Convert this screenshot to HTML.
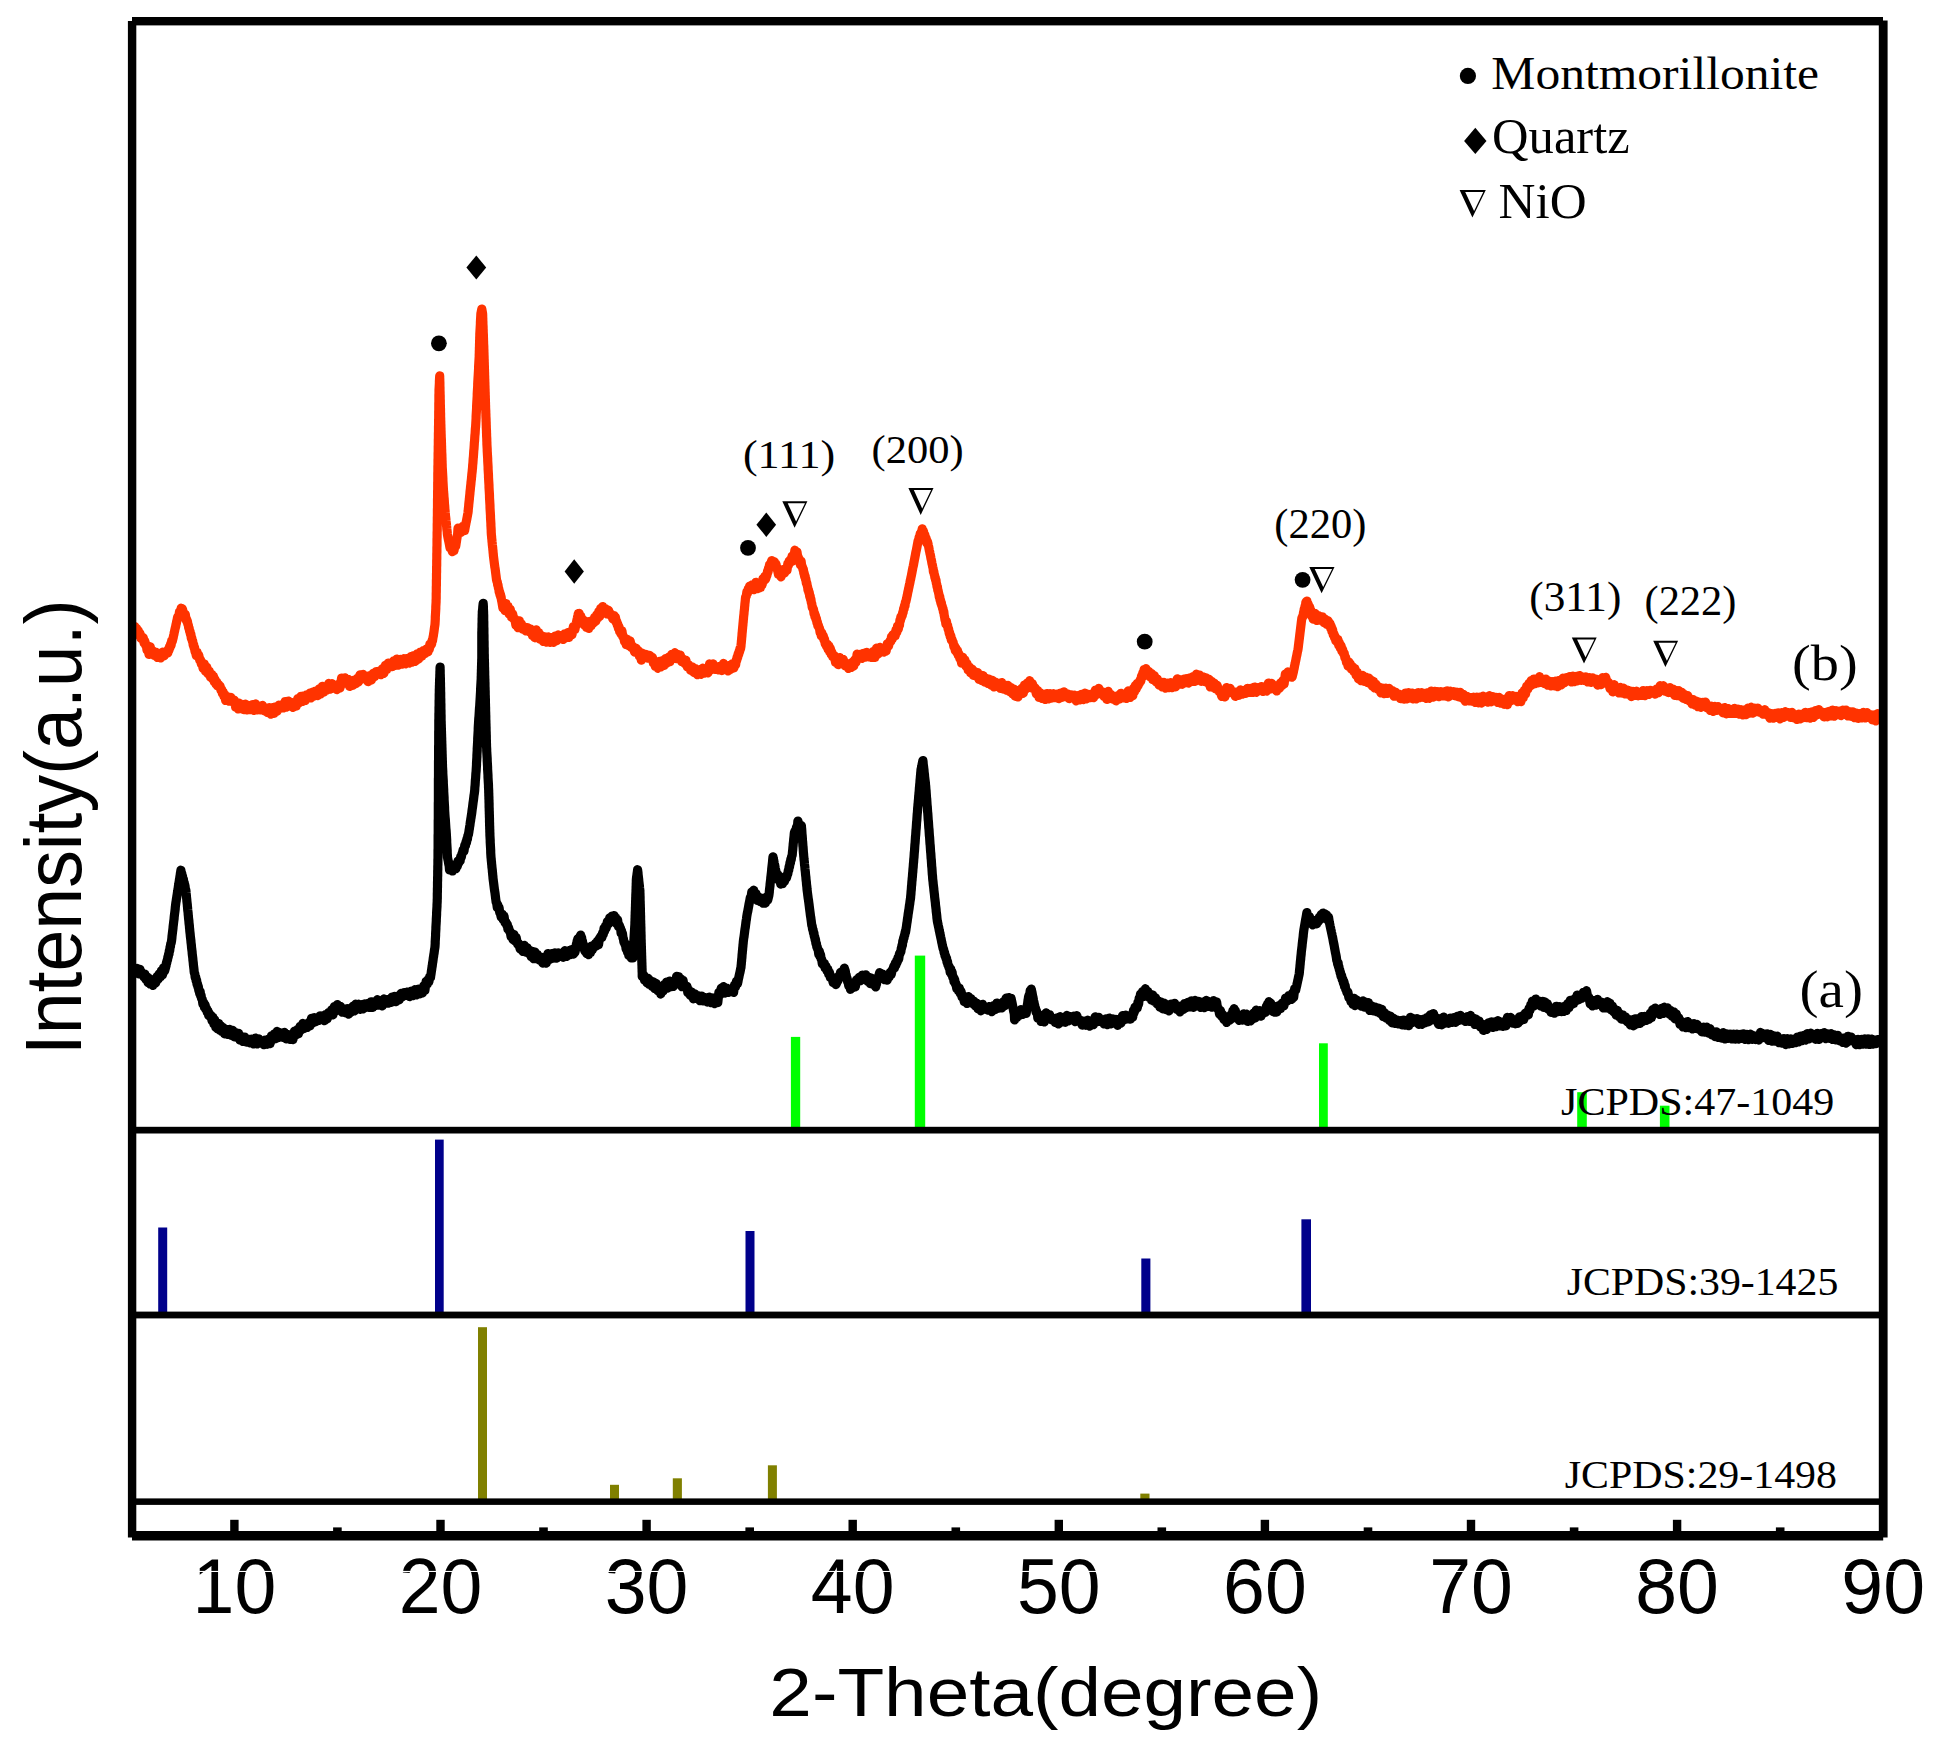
<!DOCTYPE html>
<html><head><meta charset="utf-8"><title>XRD patterns</title>
<style>
html,body{margin:0;padding:0;background:#fff}
svg{display:block}
.s{font-family:"Liberation Serif","DejaVu Serif",serif;fill:#000}
.a{font-family:"Liberation Sans","DejaVu Sans",sans-serif;fill:#000}
</style></head>
<body>
<svg width="1937" height="1749" viewBox="0 0 1937 1749">
<rect width="1937" height="1749" fill="#fff"/>
<rect x="790.9" y="1036.9" width="9.3" height="91.1" fill="#00ff00"/>
<rect x="914.8" y="955.6" width="10.4" height="172.4" fill="#00ff00"/>
<rect x="1319.0" y="1043.3" width="8.8" height="84.7" fill="#00ff00"/>
<rect x="1577.2" y="1092.2" width="9.6" height="35.8" fill="#00ff00"/>
<rect x="1659.9" y="1105.7" width="9.6" height="22.3" fill="#00ff00"/>
<rect x="158.2" y="1227.5" width="9.0" height="85.5" fill="#00008b"/>
<rect x="435.0" y="1139.6" width="8.7" height="173.4" fill="#00008b"/>
<rect x="745.5" y="1231.0" width="9.0" height="82.0" fill="#00008b"/>
<rect x="1141.3" y="1258.5" width="9.1" height="54.5" fill="#00008b"/>
<rect x="1301.4" y="1219.3" width="9.6" height="93.7" fill="#00008b"/>
<rect x="478.0" y="1327.2" width="9.0" height="172.8" fill="#808000"/>
<rect x="610.0" y="1484.8" width="9.0" height="15.2" fill="#808000"/>
<rect x="672.8" y="1478.3" width="9.1" height="21.7" fill="#808000"/>
<rect x="767.9" y="1465.3" width="9.0" height="34.7" fill="#808000"/>
<rect x="1140.3" y="1493.6" width="9.2" height="6.4" fill="#808000"/>
<polyline points="133.0,628.1 135.0,627.0 135.8,629.9 136.7,629.0 137.5,633.8 138.4,631.3 139.2,635.9 140.1,634.1 140.9,638.7 141.8,636.9 142.6,639.6 143.3,638.1 144.1,643.4 144.8,641.4 145.5,645.5 146.2,644.8 147.0,650.5 147.7,648.0 149.0,654.9 150.2,647.1 151.5,653.5 152.7,651.0 154.0,655.7 155.7,652.5 157.3,657.8 159.0,653.8 160.8,658.3 162.5,652.6 164.3,656.0 166.0,652.0 167.8,653.4 168.4,649.6 168.9,650.9 169.5,647.0 170.0,648.0 170.6,644.5 171.1,645.7 171.7,641.0 172.2,642.1 172.8,639.6 173.2,638.0 173.5,636.4 173.9,634.8 174.2,633.1 174.6,631.5 174.9,629.9 175.3,628.3 175.7,626.7 176.0,625.1 176.4,623.5 176.7,621.8 177.1,620.2 177.4,618.6 177.8,617.0 178.7,617.8 179.5,612.1 180.4,614.3 181.2,608.6 182.1,609.0 182.7,610.2 183.4,615.0 184.0,613.7 184.7,618.0 185.3,614.8 186.0,620.3 186.6,619.5 187.0,622.2 187.4,621.6 187.9,624.9 188.3,625.1 188.7,628.4 189.1,628.3 189.6,631.7 190.0,631.6 190.4,634.6 190.9,634.7 191.3,638.7 191.8,638.2 192.3,641.6 192.7,641.3 193.2,645.7 193.6,644.5 194.1,648.4 194.6,647.9 195.0,651.9 195.5,652.2 196.3,656.0 197.2,652.7 198.0,657.1 198.8,655.7 199.7,660.5 200.5,660.2 201.3,664.4 202.2,663.0 203.0,668.6 204.3,664.2 205.5,671.6 206.8,667.6 208.0,674.0 209.3,671.5 210.5,677.5 211.8,674.8 212.6,679.3 213.5,676.5 214.3,682.2 215.1,679.9 216.0,684.5 216.8,682.4 217.6,686.4 218.5,684.9 219.3,687.4 220.1,686.4 220.9,690.6 221.7,690.0 222.4,693.9 223.2,692.5 224.0,696.7 224.8,694.9 225.6,700.9 227.4,697.0 229.1,701.6 230.9,697.8 232.6,702.2 234.4,700.6 235.7,707.7 236.9,704.1 238.2,709.4 239.5,703.6 240.7,709.0 242.0,705.2 243.7,710.0 245.4,704.5 247.2,710.2 248.9,705.9 250.6,710.1 252.4,705.0 254.1,710.8 255.8,704.3 257.5,710.3 259.2,706.4 260.8,710.4 262.5,705.7 264.2,711.2 265.9,708.9 267.5,713.0 269.2,708.1 270.9,714.6 272.5,708.0 274.0,713.7 275.6,707.2 277.2,711.6 278.8,705.5 280.4,708.8 281.9,705.2 283.5,708.3 285.1,701.9 286.7,707.5 288.3,701.4 289.9,706.6 291.5,702.8 293.0,707.8 294.6,703.2 296.2,706.6 297.8,698.9 299.4,703.0 301.0,696.7 302.4,701.9 303.9,696.2 305.3,700.9 306.7,695.2 308.1,698.5 309.6,693.6 311.0,698.4 312.6,692.6 314.2,696.4 315.9,691.4 317.5,696.1 319.1,689.3 320.7,694.4 322.3,686.7 323.9,692.4 325.6,687.3 327.2,690.4 328.8,683.8 330.4,689.5 332.0,684.1 333.6,688.4 335.2,685.7 336.8,690.0 338.4,684.7 340.0,688.5 341.6,678.5 343.2,684.0 344.8,678.2 346.4,683.4 348.1,679.7 349.7,686.8 351.4,682.7 352.8,685.8 354.3,680.4 355.7,684.2 357.1,678.8 358.5,682.3 360.0,675.2 361.4,679.8 363.1,674.8 364.8,679.2 366.4,677.1 368.1,682.1 369.8,675.9 371.5,680.3 373.1,673.8 374.6,676.9 376.2,671.9 377.8,674.5 379.3,671.6 380.9,675.1 382.4,669.0 384.0,673.7 385.4,665.7 386.8,669.9 388.2,663.5 389.6,667.4 391.1,663.9 392.5,667.0 393.9,661.2 395.3,665.8 396.7,659.5 398.5,665.5 400.3,659.8 402.1,664.6 403.8,659.1 405.6,664.2 407.4,658.8 409.2,663.5 410.8,657.0 412.4,662.5 413.9,655.9 415.5,661.7 417.1,654.3 418.6,659.5 420.2,652.5 421.8,656.7 423.4,651.0 424.9,654.1 426.4,649.5 428.0,652.2 428.6,647.8 429.3,649.9 429.9,644.5 430.6,646.1 431.2,644.7 431.6,644.4 432.1,640.9 432.5,641.1 433.0,637.8 433.4,636.0 433.6,634.4 433.9,632.7 434.1,631.1 434.3,629.5 434.5,627.9 434.8,626.2 435.0,624.6 435.1,622.9 435.2,621.2 435.3,619.5 435.3,617.7 435.4,616.0 435.5,614.3 435.6,612.6 435.7,610.9 435.8,609.2 435.8,607.4 435.9,605.7 436.0,604.0 436.1,602.3 436.1,600.6 436.2,599.0 436.2,597.3 436.2,595.7 436.2,594.0 436.3,592.4 436.3,590.7 436.3,589.1 436.3,587.4 436.4,585.8 436.4,584.1 436.4,582.5 436.4,580.8 436.5,579.2 436.5,577.5 436.5,575.9 436.5,574.2 436.6,572.6 436.6,570.9 436.6,569.3 436.6,567.6 436.7,566.0 436.7,564.3 436.7,562.7 436.7,561.0 436.8,559.4 436.8,557.7 436.8,556.0 436.8,554.4 436.9,552.7 436.9,551.1 436.9,549.4 436.9,547.8 437.0,546.1 437.0,544.5 437.0,542.8 437.0,541.1 437.0,539.5 437.1,537.8 437.1,536.2 437.1,534.5 437.1,532.9 437.2,531.2 437.2,529.6 437.2,527.9 437.2,526.2 437.2,524.6 437.3,522.9 437.3,521.3 437.3,519.6 437.3,518.0 437.4,516.3 437.4,514.7 437.4,513.0 437.4,511.4 437.4,509.7 437.5,508.1 437.5,506.4 437.5,504.8 437.5,503.1 437.5,501.5 437.5,499.8 437.6,498.2 437.6,496.5 437.6,494.9 437.6,493.2 437.6,491.6 437.7,489.9 437.7,488.3 437.7,486.6 437.7,485.0 437.7,483.3 437.8,481.7 437.8,480.0 437.8,478.4 437.8,476.7 437.8,475.1 437.8,473.4 437.9,471.8 437.9,470.1 437.9,468.5 437.9,466.8 438.0,465.2 438.0,463.5 438.0,461.9 438.0,460.2 438.1,458.6 438.1,456.9 438.1,455.3 438.1,453.6 438.2,451.9 438.2,450.3 438.2,448.6 438.2,447.0 438.3,445.3 438.3,443.7 438.3,442.0 438.3,440.4 438.4,438.7 438.4,437.0 438.4,435.4 438.4,433.7 438.5,432.1 438.5,430.4 438.5,428.8 438.5,427.1 438.6,425.5 438.6,423.8 438.6,422.1 438.6,420.5 438.7,418.8 438.7,417.1 438.7,415.4 438.7,413.8 438.7,412.1 438.8,410.4 438.8,408.8 438.8,407.1 438.8,405.4 438.8,403.8 438.9,402.1 438.9,400.4 438.9,398.8 438.9,397.1 438.9,395.4 439.0,393.7 439.0,392.1 439.0,390.4 439.1,388.6 439.2,386.9 439.3,385.1 439.4,383.4 439.4,381.6 439.5,379.8 439.6,378.1 439.7,376.3 439.7,377.9 439.8,379.6 439.8,381.2 439.9,382.9 439.9,384.5 439.9,386.1 440.0,387.8 440.0,389.4 440.0,391.0 440.1,392.7 440.1,394.3 440.2,396.0 440.2,397.6 440.2,399.2 440.3,400.9 440.3,402.5 440.3,404.1 440.4,405.8 440.4,407.4 440.5,409.1 440.5,410.7 440.5,412.3 440.6,414.0 440.6,415.6 440.6,417.2 440.7,418.9 440.7,420.5 440.8,422.2 440.8,423.8 440.9,425.5 440.9,427.1 441.0,428.8 441.0,430.4 441.1,432.1 441.1,433.7 441.2,435.4 441.2,437.0 441.3,438.7 441.4,440.4 441.4,442.0 441.5,443.7 441.5,445.3 441.6,447.0 441.6,448.6 441.7,450.3 441.7,451.9 441.8,453.6 441.9,455.3 441.9,456.9 442.0,458.6 442.0,460.2 442.1,461.9 442.1,463.5 442.2,465.2 442.2,466.8 442.3,468.5 442.4,470.2 442.5,471.9 442.6,473.6 442.7,475.4 442.8,477.1 442.9,478.8 442.9,480.5 443.0,482.2 443.1,483.9 443.2,485.7 443.3,487.4 443.4,489.1 443.5,490.8 443.6,492.5 443.8,494.2 443.9,495.9 444.0,497.6 444.2,499.3 444.3,501.0 444.4,502.8 444.5,504.5 444.7,506.2 444.8,507.9 444.9,509.6 445.1,511.3 445.2,513.0 445.4,514.6 445.5,516.2 445.7,517.8 445.9,519.4 446.0,521.0 446.2,522.6 446.4,524.2 446.5,525.8 446.7,527.4 446.8,529.0 447.0,530.6 447.2,532.2 447.3,533.8 447.5,535.4 447.8,537.0 448.1,538.5 448.4,540.1 448.8,541.7 449.1,543.3 449.4,544.9 449.7,546.4 450.0,548.0 451.2,547.9 452.4,552.1 453.2,548.5 454.0,551.0 454.9,545.8 455.7,546.5 456.0,544.9 456.2,543.3 456.5,541.7 456.7,540.1 457.0,538.4 457.2,536.8 457.5,535.2 457.7,533.6 458.0,528.6 461.0,532.7 462.8,526.8 464.6,531.0 464.9,529.4 465.2,527.7 465.5,526.1 465.8,524.5 466.1,522.8 466.5,521.2 466.8,519.5 467.1,517.9 467.4,516.3 467.7,514.6 468.0,513.0 468.2,511.3 468.3,509.6 468.5,507.9 468.7,506.2 468.8,504.5 469.0,502.8 469.2,501.0 469.4,499.3 469.5,497.6 469.7,495.9 469.9,494.2 470.0,492.5 470.2,490.8 470.4,489.2 470.5,487.6 470.7,486.0 470.9,484.4 471.0,482.8 471.2,481.2 471.4,479.6 471.5,478.1 471.7,476.5 471.8,474.9 472.0,473.3 472.2,471.7 472.3,470.1 472.5,468.5 472.6,466.9 472.7,465.3 472.9,463.7 473.0,462.1 473.1,460.5 473.2,458.9 473.4,457.3 473.5,455.7 473.6,454.1 473.7,452.5 473.8,450.9 474.0,449.3 474.1,447.7 474.2,446.1 474.3,444.4 474.4,442.7 474.6,441.0 474.7,439.2 474.8,437.5 474.9,435.8 475.1,434.1 475.2,432.4 475.3,430.7 475.4,428.9 475.6,427.2 475.7,425.5 475.8,423.8 475.9,422.1 476.0,420.4 476.1,418.7 476.1,416.9 476.2,415.2 476.3,413.5 476.4,411.8 476.5,410.1 476.6,408.4 476.6,406.6 476.7,404.9 476.8,403.2 476.9,401.5 477.0,399.8 477.1,398.1 477.2,396.4 477.2,394.6 477.3,392.9 477.4,391.2 477.5,389.5 477.6,387.8 477.7,386.1 477.7,384.3 477.8,382.6 477.9,380.9 478.0,379.2 478.1,377.5 478.2,375.8 478.3,374.1 478.4,372.3 478.5,370.6 478.6,368.9 478.6,367.2 478.7,365.5 478.8,363.8 478.9,362.0 479.0,360.3 479.1,358.6 479.2,356.9 479.2,355.2 479.3,353.5 479.3,351.8 479.4,350.0 479.4,348.3 479.5,346.6 479.5,344.9 479.6,343.2 479.6,341.5 479.7,339.7 479.7,338.0 479.8,336.3 479.8,334.6 479.9,332.9 480.0,331.2 480.1,329.5 480.2,327.7 480.3,326.0 480.4,324.3 480.4,322.6 480.5,320.9 480.6,319.1 480.7,317.4 480.8,315.7 480.9,314.0 481.4,311.7 481.8,309.4 482.2,311.7 482.6,314.0 482.7,315.6 482.7,317.3 482.8,318.9 482.8,320.6 482.9,322.2 482.9,323.9 483.0,325.6 483.1,327.2 483.1,328.8 483.2,330.5 483.2,332.1 483.3,333.8 483.4,335.4 483.4,337.1 483.5,338.8 483.5,340.4 483.6,342.1 483.6,343.7 483.7,345.3 483.8,347.0 483.8,348.6 483.9,350.3 483.9,351.9 484.0,353.6 484.0,355.2 484.1,356.9 484.1,358.6 484.2,360.2 484.2,361.9 484.3,363.5 484.3,365.2 484.4,366.8 484.4,368.5 484.5,370.1 484.5,371.8 484.6,373.4 484.6,375.1 484.7,376.7 484.7,378.4 484.8,380.0 484.8,381.7 484.9,383.3 484.9,385.0 485.0,386.6 485.0,388.3 485.1,389.9 485.1,391.6 485.2,393.2 485.2,394.9 485.3,396.5 485.3,398.2 485.4,399.8 485.4,401.5 485.5,403.2 485.5,404.8 485.6,406.5 485.6,408.1 485.7,409.8 485.8,411.4 485.8,413.1 485.9,414.7 485.9,416.4 486.0,418.0 486.1,419.7 486.1,421.3 486.2,423.0 486.2,424.6 486.3,426.3 486.3,427.9 486.4,429.6 486.5,431.2 486.5,432.9 486.6,434.5 486.6,436.2 486.7,437.8 486.8,439.5 486.8,441.1 486.9,442.8 486.9,444.4 487.0,446.1 487.1,447.8 487.2,449.4 487.2,451.1 487.3,452.7 487.4,454.4 487.5,456.0 487.6,457.7 487.7,459.3 487.7,461.0 487.8,462.7 487.9,464.3 488.0,466.0 488.1,467.6 488.1,469.3 488.2,470.9 488.3,472.6 488.4,474.2 488.5,475.9 488.5,477.6 488.6,479.2 488.7,480.9 488.8,482.5 488.9,484.2 489.0,485.8 489.0,487.5 489.1,489.1 489.2,490.8 489.3,492.5 489.4,494.2 489.5,495.9 489.5,497.6 489.6,499.3 489.7,501.0 489.8,502.8 489.9,504.5 490.0,506.2 490.0,507.9 490.1,509.6 490.2,511.3 490.3,513.0 490.4,514.6 490.5,516.2 490.5,517.8 490.6,519.4 490.7,521.0 490.8,522.6 490.9,524.2 490.9,525.8 491.0,527.4 491.1,529.0 491.2,530.6 491.2,532.2 491.3,533.8 491.4,535.4 491.6,537.0 491.7,538.6 491.9,540.2 492.0,541.8 492.2,543.4 492.3,545.0 492.5,546.5 492.7,548.1 492.8,549.7 493.0,551.3 493.1,552.9 493.3,554.5 493.4,556.1 493.6,557.7 493.8,559.3 494.0,560.9 494.2,562.5 494.4,564.1 494.6,565.7 494.8,567.3 495.1,568.9 495.3,570.4 495.5,572.0 495.7,573.6 495.9,575.2 496.1,576.8 496.3,578.4 496.5,580.0 496.9,581.7 497.3,582.4 497.7,585.5 498.0,585.3 498.4,588.4 498.8,589.2 499.2,592.5 499.6,591.8 500.0,595.5 500.4,594.3 500.7,597.6 501.1,597.1 501.5,600.6 501.9,602.3 502.9,608.3 504.0,604.1 505.0,611.0 506.0,603.9 507.1,610.7 508.1,606.7 509.2,614.5 510.3,609.9 511.4,617.4 512.6,614.2 513.7,619.3 514.8,619.4 515.9,625.7 517.0,621.8 518.1,628.1 519.3,621.2 520.4,628.2 521.5,624.4 522.6,629.5 524.2,627.3 525.9,631.3 527.5,628.1 529.2,632.1 530.9,629.6 532.5,635.9 533.8,632.1 535.0,638.2 536.2,630.3 537.5,636.7 538.8,633.1 540.0,639.7 541.7,636.0 543.3,641.9 545.0,637.2 546.6,642.5 548.3,637.3 549.9,642.7 551.6,637.9 553.3,642.8 554.9,636.5 556.6,641.1 558.2,635.3 559.9,639.0 561.5,635.8 563.2,639.9 564.7,634.2 566.1,638.1 567.6,633.1 569.0,637.8 570.5,632.2 572.0,635.1 573.4,626.9 574.9,630.0 575.2,628.4 575.6,626.8 575.9,625.2 576.3,623.6 576.6,622.0 576.9,620.4 577.3,618.8 577.6,617.2 578.0,615.6 578.3,614.0 579.2,613.8 580.0,618.8 580.9,616.6 581.8,622.0 583.0,620.0 584.1,625.3 585.3,621.5 586.5,627.9 587.6,623.3 588.8,628.9 590.0,621.7 591.1,626.4 592.3,621.2 593.5,623.4 594.6,617.8 595.8,621.7 596.8,615.0 597.8,618.6 598.8,611.9 599.7,616.6 600.7,608.9 601.7,612.3 602.7,606.9 604.2,612.4 605.6,609.1 607.0,614.4 608.5,610.6 610.0,615.4 611.4,614.9 612.8,619.2 614.3,616.1 614.9,620.2 615.5,617.9 616.1,622.6 616.7,621.6 617.2,625.4 617.8,624.5 618.4,628.7 619.0,626.9 619.6,631.8 620.2,632.3 621.1,634.5 621.9,631.1 622.8,636.9 623.7,637.1 624.5,642.0 625.4,640.6 626.2,645.0 627.1,639.8 628.6,645.9 630.1,641.2 631.6,648.1 633.1,646.9 634.6,652.5 636.1,648.6 637.6,651.0 638.5,651.3 639.4,656.7 640.4,653.9 641.3,660.6 642.2,653.5 644.1,658.2 645.9,654.7 647.8,658.6 649.6,655.7 651.5,657.9 652.4,657.7 653.4,663.5 654.3,661.7 655.3,666.7 656.2,663.3 657.8,668.7 659.3,661.8 660.9,667.4 662.4,661.0 664.0,665.9 665.5,659.1 667.0,663.6 668.6,657.5 670.1,662.0 671.7,654.8 673.2,658.4 674.8,653.1 676.2,659.1 677.6,654.8 678.9,659.2 680.3,655.4 681.7,662.0 683.1,659.4 684.5,663.7 685.9,660.5 687.3,667.2 688.7,665.2 690.5,670.6 692.2,667.2 694.0,672.9 695.7,669.0 697.4,675.1 699.2,670.2 700.9,674.8 702.7,668.6 704.4,673.5 706.1,669.7 707.9,673.2 709.6,664.3 711.3,670.2 713.1,664.2 714.8,669.7 716.5,666.9 718.3,670.3 720.0,666.7 721.8,671.0 723.5,663.8 725.1,669.4 726.6,666.7 728.2,671.4 729.6,665.7 731.0,669.6 732.4,664.2 733.8,668.4 735.2,664.9 735.7,664.8 736.2,660.5 736.7,661.0 737.1,657.4 737.6,658.4 738.1,654.4 738.6,655.2 739.1,651.7 739.5,652.5 740.0,648.7 740.5,649.4 741.0,646.3 741.1,644.7 741.3,643.1 741.4,641.5 741.6,639.9 741.7,638.3 741.9,636.7 742.0,635.1 742.1,633.5 742.3,631.9 742.4,630.3 742.6,628.7 742.7,627.1 742.9,625.5 743.0,623.9 743.2,622.3 743.3,620.7 743.5,619.0 743.6,617.4 743.8,615.7 744.0,614.1 744.1,612.4 744.3,610.8 744.5,609.1 744.6,607.4 744.8,605.8 744.9,604.1 745.1,602.5 745.3,600.8 745.4,599.2 745.6,597.5 746.3,596.5 746.9,592.0 747.6,593.4 748.3,589.1 749.0,590.4 749.6,586.5 750.3,589.7 752.2,585.3 754.0,590.1 755.9,582.7 757.7,589.0 759.6,588.2 760.5,587.9 761.3,582.2 762.2,585.1 763.0,579.1 763.9,581.2 764.8,576.8 765.6,579.5 766.5,576.6 767.0,575.7 767.5,571.6 768.0,572.7 768.5,568.7 769.0,568.7 769.5,565.2 770.0,566.4 771.8,560.9 773.5,562.6 774.3,562.1 775.2,567.6 776.0,564.3 776.8,569.3 777.6,570.4 778.5,574.9 779.3,571.8 781.0,577.3 782.8,570.1 784.5,573.4 786.3,569.6 787.0,570.8 787.8,564.1 788.5,565.6 789.2,561.4 789.9,562.7 790.6,559.8 791.4,562.1 792.1,556.6 793.5,560.1 794.9,550.6 796.3,553.3 797.0,552.4 797.7,557.3 798.4,557.6 799.1,562.4 799.7,560.3 800.4,565.3 801.1,561.6 801.8,567.0 802.5,567.3 802.9,569.7 803.4,569.8 803.8,573.8 804.2,573.3 804.6,577.0 805.1,576.1 805.5,579.5 805.9,579.6 806.3,583.4 806.8,583.5 807.2,585.9 807.6,587.2 808.0,590.5 808.4,589.8 808.9,593.3 809.3,593.0 809.7,597.0 810.1,595.9 810.5,599.8 810.9,599.4 811.3,602.9 811.8,604.3 812.2,607.6 812.6,607.6 813.0,609.1 813.5,609.7 814.0,614.0 814.5,613.5 814.9,617.1 815.4,615.6 815.9,619.7 816.4,618.7 816.9,623.1 817.3,622.0 817.8,626.2 818.3,625.3 818.8,627.7 819.4,628.3 820.1,633.0 820.7,631.6 821.3,636.3 822.0,633.7 822.6,637.5 823.3,636.2 823.9,640.1 824.5,639.4 825.2,644.1 825.8,644.0 826.6,646.8 827.4,644.5 828.1,649.7 828.9,646.3 829.7,652.2 830.5,649.2 831.2,654.7 832.0,652.9 832.8,657.2 834.2,656.0 835.6,662.9 836.9,659.0 838.3,665.1 839.7,658.0 841.5,664.0 843.2,659.7 845.0,666.1 846.7,663.8 848.5,668.9 850.2,664.8 851.4,667.8 852.5,662.6 853.7,666.5 854.8,660.1 856.0,662.9 857.1,654.5 858.7,658.4 860.3,654.7 861.9,658.8 863.5,653.8 865.1,657.6 866.7,652.8 868.3,657.2 869.9,653.5 871.6,657.9 873.2,651.9 874.9,657.8 876.5,648.6 878.2,654.4 879.8,647.7 881.5,651.9 882.7,649.5 883.8,652.5 885.0,648.1 886.1,651.6 887.3,644.2 888.5,646.6 889.6,641.8 890.8,641.6 891.5,637.1 892.3,639.4 893.0,635.0 893.8,637.2 894.5,633.8 895.3,636.0 896.0,630.3 896.8,632.9 897.5,626.6 898.3,629.6 899.0,625.4 899.5,625.6 899.9,620.4 900.4,621.3 900.8,617.3 901.3,618.1 901.8,615.7 902.2,616.2 902.7,612.9 903.1,613.0 903.6,609.1 904.1,609.4 904.5,605.9 905.0,606.3 905.4,602.5 905.9,602.1 906.2,600.5 906.6,598.8 906.9,597.2 907.3,595.6 907.6,593.9 907.9,592.3 908.3,590.7 908.6,589.0 909.0,587.4 909.3,585.7 909.7,584.1 910.0,582.5 910.3,580.8 910.7,579.2 911.0,577.6 911.4,575.9 911.7,574.3 912.0,572.7 912.3,571.1 912.6,569.5 912.9,567.9 913.3,566.3 913.6,564.7 913.9,563.1 914.2,561.5 914.5,559.9 914.8,558.4 915.1,556.8 915.4,555.2 915.7,553.6 916.0,552.0 916.4,550.4 916.7,548.8 917.0,547.2 917.3,545.6 917.6,544.0 918.1,541.1 918.6,542.2 919.1,537.7 919.6,538.1 920.2,534.2 920.7,535.1 921.2,532.4 921.7,532.9 922.2,529.3 922.8,533.5 923.5,531.7 924.1,535.5 924.8,535.1 925.4,538.7 926.1,538.6 926.7,543.4 927.4,541.7 928.0,544.0 928.3,545.7 928.7,547.3 929.0,549.0 929.3,550.7 929.7,552.3 930.0,554.0 930.4,555.6 930.7,557.3 931.0,559.0 931.4,560.6 931.7,562.3 932.0,564.0 932.4,565.6 932.7,567.3 933.1,568.8 933.4,572.2 933.8,571.6 934.2,574.8 934.5,575.0 934.9,578.1 935.2,577.4 935.6,580.7 936.0,580.2 936.3,583.5 936.7,584.4 937.0,587.1 937.4,587.0 937.8,590.6 938.1,591.0 938.5,592.8 938.9,594.6 939.3,597.6 939.7,596.6 940.1,600.8 940.5,600.2 940.9,603.7 941.3,602.6 941.7,606.0 942.2,606.2 942.6,609.1 943.0,608.9 943.4,612.3 943.8,612.0 944.2,615.6 944.6,617.4 945.0,620.3 945.4,620.7 945.9,624.6 946.5,621.9 947.0,625.9 947.6,625.7 948.1,629.7 948.6,629.2 949.2,633.9 949.7,633.2 950.2,637.0 950.8,636.0 951.3,640.5 951.9,639.5 952.4,641.6 953.1,642.5 953.9,647.1 954.6,646.4 955.3,650.9 956.1,648.9 956.8,653.0 957.6,651.0 958.3,655.8 959.0,654.4 959.8,658.8 960.5,657.4 961.6,663.5 962.7,657.7 963.8,663.6 964.9,660.2 966.0,666.7 967.1,664.1 968.2,670.5 969.3,667.3 970.7,673.3 972.1,669.5 973.5,675.9 974.9,672.0 976.2,676.5 977.6,673.0 979.0,679.7 980.4,675.3 981.8,680.9 983.2,676.0 984.8,682.5 986.3,678.6 987.9,683.7 989.4,679.6 991.0,685.4 992.5,680.7 994.1,687.4 995.6,682.5 997.2,686.9 998.7,683.9 1000.3,688.7 1001.8,682.9 1003.4,689.6 1004.9,685.4 1006.5,690.5 1008.0,685.8 1009.6,692.0 1011.1,688.0 1012.5,694.2 1013.9,689.5 1015.3,696.7 1016.7,692.4 1018.1,697.4 1019.4,690.6 1020.7,694.5 1022.0,688.6 1023.3,693.8 1024.5,685.4 1025.8,689.8 1027.1,683.6 1028.4,686.9 1029.7,681.1 1031.0,688.2 1032.4,684.0 1033.7,689.2 1035.0,688.2 1036.3,694.2 1037.7,690.9 1039.0,697.9 1040.5,693.3 1042.1,698.9 1043.7,694.7 1045.2,699.9 1046.8,693.9 1048.3,699.4 1050.0,694.1 1051.8,698.5 1053.5,694.1 1055.2,698.1 1057.0,694.4 1058.7,699.1 1060.5,693.6 1062.2,697.7 1064.0,692.2 1065.7,697.1 1067.5,694.3 1069.2,699.1 1071.0,695.2 1072.7,698.4 1074.5,695.6 1076.2,701.3 1077.9,696.0 1079.7,700.3 1081.4,694.8 1083.2,700.1 1084.9,693.5 1086.6,699.3 1088.4,694.7 1090.1,698.0 1091.8,694.4 1093.6,698.0 1095.3,690.6 1097.1,694.6 1098.8,688.7 1100.6,694.1 1102.3,692.2 1104.1,696.9 1105.5,693.8 1106.9,699.8 1108.2,691.8 1109.6,698.3 1111.0,694.9 1112.7,699.5 1114.3,697.0 1116.0,701.3 1117.6,696.1 1119.3,699.6 1120.9,693.7 1122.6,698.4 1124.5,695.1 1126.3,698.9 1128.2,691.3 1130.0,697.9 1131.9,695.6 1132.8,696.2 1133.7,688.6 1134.5,692.0 1135.4,685.9 1136.3,689.5 1137.2,683.8 1138.0,686.3 1138.9,684.0 1139.5,683.3 1140.2,680.2 1140.8,681.6 1141.5,676.6 1142.1,678.1 1142.8,673.3 1143.4,674.1 1144.1,670.0 1144.7,671.5 1146.0,668.9 1147.4,674.7 1148.8,671.7 1150.1,677.3 1151.5,674.0 1152.8,680.1 1154.3,675.9 1155.9,682.1 1157.4,679.5 1159.0,685.4 1160.5,682.3 1162.1,687.3 1163.8,682.8 1165.5,688.6 1167.2,683.5 1168.9,688.0 1170.6,683.0 1172.2,688.1 1173.9,683.7 1175.6,687.3 1177.3,679.2 1179.0,684.6 1180.7,680.3 1182.3,684.7 1183.8,679.6 1185.4,683.2 1186.9,678.9 1188.5,683.5 1190.0,678.3 1191.6,682.0 1193.1,677.0 1194.7,681.8 1196.4,674.6 1198.0,679.9 1199.7,675.4 1201.3,681.7 1203.0,677.3 1204.6,682.0 1206.3,678.3 1207.6,683.2 1209.0,679.6 1210.3,687.4 1211.6,681.7 1212.9,687.7 1214.3,683.5 1215.6,689.3 1217.1,685.6 1218.7,691.3 1220.2,691.5 1221.8,696.9 1223.4,692.5 1224.9,697.2 1226.6,687.9 1228.4,693.3 1230.1,688.8 1231.8,692.8 1233.6,692.4 1235.3,696.8 1237.1,692.3 1238.8,695.8 1240.5,690.2 1242.3,694.6 1244.0,690.8 1245.8,693.8 1247.5,688.7 1249.3,692.9 1251.0,688.7 1252.8,692.9 1254.5,687.4 1256.3,692.7 1258.0,687.9 1259.8,691.1 1261.5,687.0 1263.2,691.9 1265.0,687.1 1266.7,691.5 1268.4,683.4 1270.0,689.5 1271.7,683.8 1273.3,687.6 1275.0,686.0 1276.6,691.4 1278.3,686.1 1279.5,688.8 1280.6,683.2 1281.8,686.1 1283.0,680.9 1284.1,684.6 1285.3,674.6 1286.7,678.3 1288.0,672.3 1289.3,675.3 1290.7,672.5 1292.1,677.6 1293.4,672.3 1293.7,670.6 1294.1,669.0 1294.4,667.3 1294.7,665.7 1295.1,664.0 1295.4,662.4 1295.8,660.7 1296.1,659.0 1296.4,657.4 1296.8,655.7 1297.1,654.1 1297.4,652.4 1297.8,650.8 1298.1,649.1 1298.3,647.5 1298.5,645.8 1298.7,644.2 1298.9,642.5 1299.1,640.9 1299.3,639.3 1299.5,637.6 1299.7,636.0 1299.9,634.3 1300.1,632.7 1300.3,631.0 1300.5,629.4 1300.7,627.8 1300.9,626.1 1301.1,624.5 1301.3,622.8 1301.5,621.2 1301.9,618.3 1302.3,618.4 1302.7,616.4 1303.1,616.5 1303.5,612.8 1303.8,613.0 1304.2,609.4 1304.6,609.9 1305.0,606.6 1305.4,607.1 1305.8,603.0 1306.2,602.2 1306.9,601.4 1307.6,607.2 1308.3,604.7 1309.0,609.0 1309.7,607.3 1310.4,612.7 1311.1,611.0 1311.8,616.8 1312.5,613.9 1313.2,619.5 1315.1,613.8 1316.9,620.9 1318.8,616.1 1320.6,620.8 1322.5,617.3 1323.9,622.9 1325.3,619.7 1326.6,624.6 1328.0,621.1 1329.4,623.5 1330.0,623.9 1330.7,628.6 1331.3,626.6 1331.9,631.9 1332.6,629.8 1333.2,635.2 1333.9,634.0 1334.5,638.1 1335.1,636.6 1335.8,641.1 1336.4,639.8 1337.2,642.5 1338.0,639.9 1338.7,645.7 1339.5,643.5 1340.3,648.5 1341.1,646.0 1341.8,651.4 1342.6,649.7 1343.4,653.8 1344.2,653.5 1344.9,658.2 1345.7,658.1 1346.5,662.8 1347.2,661.3 1348.0,666.3 1348.8,662.3 1349.5,666.3 1350.3,664.1 1351.5,669.6 1352.6,667.1 1353.8,671.9 1354.9,668.9 1356.1,675.7 1357.3,672.6 1358.4,679.1 1359.6,675.6 1361.1,681.1 1362.7,675.8 1364.2,681.8 1365.8,677.5 1367.4,682.8 1368.9,678.5 1370.1,684.1 1371.2,680.6 1372.4,686.6 1373.6,681.9 1374.7,688.4 1375.9,684.5 1377.6,689.5 1379.2,687.5 1380.9,693.4 1382.5,688.5 1384.2,694.0 1385.8,688.5 1387.5,693.8 1389.1,688.8 1390.8,693.3 1392.4,690.9 1394.0,696.6 1395.7,692.6 1397.3,696.7 1398.9,694.4 1400.5,699.1 1402.1,695.2 1403.8,699.5 1405.4,693.4 1407.0,699.2 1408.6,693.0 1410.2,698.6 1411.8,693.4 1413.4,699.3 1415.0,693.9 1416.6,699.3 1418.3,693.0 1419.9,698.0 1421.5,693.1 1423.1,697.7 1424.7,693.8 1426.3,698.7 1427.9,692.9 1429.5,698.7 1431.1,691.5 1432.7,697.6 1434.3,691.7 1435.9,696.5 1437.5,692.0 1439.1,697.1 1440.7,692.1 1442.3,696.3 1443.9,692.2 1445.5,696.5 1447.1,691.3 1448.7,697.3 1450.3,691.5 1451.9,695.6 1453.6,692.1 1455.2,696.3 1456.9,692.6 1458.6,697.3 1460.3,692.7 1462.0,698.4 1463.6,694.8 1465.3,701.6 1467.0,696.7 1468.7,701.3 1470.3,698.1 1472.0,701.6 1473.6,697.6 1475.2,702.8 1476.8,697.5 1478.4,703.2 1480.0,697.4 1481.6,703.5 1483.2,696.6 1484.8,701.8 1486.4,697.5 1488.0,702.5 1489.6,696.0 1491.2,702.2 1492.8,697.1 1494.4,701.4 1496.0,697.7 1497.6,702.7 1499.2,697.7 1500.8,703.6 1502.5,700.3 1504.2,704.7 1505.8,699.3 1507.5,705.0 1509.2,696.0 1510.8,701.2 1512.5,696.0 1514.2,699.5 1515.9,696.8 1517.6,702.0 1519.2,697.5 1520.9,702.0 1522.1,693.2 1523.2,698.3 1524.4,690.5 1525.5,694.7 1526.7,686.7 1527.8,689.9 1529.0,683.7 1530.1,686.7 1531.2,681.0 1532.4,685.0 1533.8,679.4 1535.3,684.1 1536.7,680.2 1538.2,683.2 1539.6,677.1 1541.2,682.7 1542.8,679.9 1544.4,684.0 1546.0,679.4 1547.7,685.6 1549.3,681.6 1550.9,686.4 1552.5,682.0 1554.2,686.3 1556.0,681.4 1557.7,687.0 1559.4,680.7 1561.2,685.3 1562.9,678.6 1564.6,683.0 1566.3,678.1 1568.1,681.2 1569.8,677.0 1571.4,682.4 1573.0,676.5 1574.6,682.0 1576.2,676.8 1577.8,681.2 1579.4,675.9 1581.0,680.7 1582.6,677.2 1584.2,680.9 1585.9,677.3 1587.5,682.3 1589.2,678.0 1590.9,682.7 1592.6,678.2 1594.2,682.2 1595.9,679.4 1597.6,685.5 1599.3,679.9 1601.0,685.1 1602.6,678.1 1604.3,683.1 1605.7,677.7 1607.2,684.0 1608.6,682.8 1610.0,689.0 1611.5,685.4 1612.9,692.4 1614.4,685.1 1615.8,691.4 1617.4,687.8 1618.9,693.4 1620.5,687.8 1622.1,693.5 1623.6,688.5 1625.2,694.4 1626.7,690.2 1628.3,694.8 1629.9,691.3 1631.4,697.0 1633.0,691.8 1634.7,695.9 1636.5,691.6 1638.2,696.2 1639.9,692.6 1641.7,695.9 1643.4,690.9 1645.1,696.0 1646.8,691.1 1648.6,694.9 1650.3,690.7 1651.9,693.6 1653.6,691.1 1655.2,694.5 1656.9,689.2 1658.5,693.1 1660.2,686.0 1661.8,690.2 1663.4,686.1 1665.1,691.6 1666.7,689.0 1668.4,693.0 1670.0,688.0 1671.7,693.1 1673.3,689.6 1674.7,695.7 1676.2,690.9 1677.6,696.1 1679.0,691.1 1680.5,696.6 1681.9,692.7 1683.4,698.8 1684.8,694.9 1686.2,699.8 1687.7,695.9 1689.1,701.1 1690.6,699.5 1692.0,704.4 1693.4,700.1 1694.9,705.4 1696.3,701.4 1697.8,707.1 1699.2,702.5 1700.8,707.7 1702.3,702.8 1703.9,706.8 1705.5,702.4 1707.0,708.2 1708.6,706.1 1710.1,710.9 1711.7,706.6 1713.3,711.8 1714.8,706.7 1716.4,710.9 1718.0,707.0 1719.7,710.7 1721.3,708.9 1723.0,713.3 1724.6,707.9 1726.3,714.2 1727.9,708.9 1729.5,713.9 1731.2,710.3 1732.8,713.9 1734.5,708.8 1736.1,713.9 1737.8,709.5 1739.4,714.6 1741.1,710.1 1742.8,715.3 1744.5,710.2 1746.1,715.1 1747.8,708.6 1749.5,713.6 1751.2,707.6 1752.9,713.5 1754.5,708.6 1756.2,712.1 1757.9,708.5 1759.6,712.6 1761.3,710.7 1763.0,714.6 1764.8,710.1 1766.5,715.0 1768.2,712.9 1769.9,718.6 1771.6,714.0 1773.4,718.6 1775.1,713.8 1776.8,717.7 1778.5,713.2 1780.2,719.3 1781.8,713.0 1783.5,717.8 1785.2,712.1 1786.9,716.3 1788.6,712.9 1790.3,717.7 1792.0,712.8 1793.6,718.0 1795.3,715.4 1797.0,719.9 1798.7,714.6 1800.3,719.4 1802.0,714.5 1803.7,718.0 1805.4,712.7 1807.0,718.0 1808.7,713.0 1810.4,718.5 1812.1,712.2 1813.8,717.7 1815.4,711.0 1817.1,715.1 1818.8,710.0 1820.5,714.8 1822.3,712.6 1824.0,717.3 1825.7,712.8 1827.4,717.2 1829.1,711.8 1830.9,716.4 1832.6,710.5 1834.3,716.6 1836.0,711.0 1837.7,714.9 1839.3,711.4 1841.0,716.1 1842.7,710.6 1844.4,714.7 1846.1,710.4 1847.8,716.3 1849.5,712.0 1851.1,716.7 1852.8,712.2 1854.5,718.1 1856.3,713.4 1858.1,718.7 1859.9,713.9 1861.7,718.3 1863.4,712.7 1865.2,718.4 1867.0,713.0 1868.8,717.9 1870.6,715.1 1872.4,720.3 1874.2,715.2 1875.9,721.4 1877.7,714.1 1879.5,718.0" fill="none" stroke="#ff3300" stroke-width="9.2" transform="translate(0,-0.4)" stroke-linejoin="round" stroke-linecap="round"/>
<polyline points="133.0,971.2 134.3,968.3 135.7,972.5 137.2,968.8 138.6,974.2 140.0,969.8 141.5,974.5 142.9,974.5 143.9,977.4 144.9,974.6 145.9,979.8 147.0,977.1 148.0,983.0 149.0,978.6 150.0,984.3 151.4,981.0 152.9,985.7 154.3,980.3 155.8,983.3 157.2,976.7 158.3,979.5 159.3,974.2 160.4,977.4 161.4,971.1 162.5,975.4 163.6,968.2 164.6,971.3 165.7,967.4 166.1,966.0 166.4,963.2 166.8,963.2 167.1,960.8 167.5,960.5 167.9,957.3 168.2,957.7 168.6,954.5 169.0,954.6 169.3,950.9 169.7,951.3 170.1,947.1 170.4,947.2 170.8,943.8 171.1,943.7 171.5,941.6 171.7,940.0 171.9,938.4 172.0,936.8 172.2,935.1 172.4,933.5 172.6,931.9 172.8,930.3 173.0,928.7 173.1,927.1 173.3,925.5 173.5,923.9 173.7,922.2 173.9,920.6 174.1,919.0 174.2,917.4 174.4,915.8 174.6,914.2 174.8,912.6 175.0,911.0 175.2,909.3 175.3,907.7 175.5,906.1 175.7,904.5 175.9,902.9 176.2,901.3 176.4,899.7 176.7,898.0 176.9,896.4 177.2,894.8 177.4,893.2 177.7,891.6 177.9,890.0 178.2,888.4 178.4,886.7 178.7,885.1 178.9,883.5 179.2,881.9 179.4,880.3 179.7,878.7 179.9,877.1 180.2,875.4 180.4,873.8 180.7,872.2 180.9,870.6 181.3,874.1 181.7,873.5 182.1,876.9 182.5,876.4 182.9,879.9 183.4,879.7 183.8,883.6 184.2,882.6 184.6,886.1 185.0,886.1 185.4,889.8 185.8,890.2 186.0,891.8 186.1,893.5 186.3,895.1 186.4,896.8 186.6,898.4 186.8,900.1 186.9,901.7 187.1,903.4 187.3,905.0 187.4,906.7 187.6,908.3 187.7,910.0 187.9,911.6 188.1,913.2 188.2,914.9 188.4,916.5 188.5,918.2 188.7,919.8 188.9,921.5 189.0,923.1 189.2,924.8 189.4,926.4 189.5,928.1 189.7,929.7 189.8,931.4 190.0,933.0 190.2,934.6 190.3,936.2 190.5,937.8 190.7,939.4 190.9,941.0 191.0,942.6 191.2,944.2 191.4,945.8 191.5,947.4 191.7,949.0 191.9,950.6 192.1,952.2 192.2,953.9 192.4,955.5 192.6,957.1 192.8,958.7 192.9,960.3 193.1,961.9 193.3,963.5 193.4,965.1 193.6,966.7 193.8,968.3 194.0,969.9 194.1,971.5 194.3,973.1 194.8,974.1 195.2,977.9 195.7,977.5 196.1,981.2 196.6,980.4 197.0,984.6 197.5,984.1 197.9,987.4 198.3,986.6 198.8,990.9 199.2,990.5 199.7,994.0 200.2,992.1 200.6,996.1 201.1,995.7 201.5,998.8 202.2,999.6 202.9,1004.4 203.7,1003.1 204.4,1007.6 205.1,1005.2 205.8,1009.7 206.5,1008.8 207.2,1012.6 207.9,1011.3 208.7,1015.9 209.4,1014.0 210.1,1016.0 211.0,1016.0 212.0,1021.1 212.9,1017.7 213.9,1024.4 214.8,1020.5 215.8,1027.7 216.8,1024.5 217.7,1029.3 218.7,1024.0 219.6,1030.6 220.6,1026.1 221.5,1031.7 223.1,1027.8 224.7,1034.2 226.3,1029.7 227.9,1034.9 229.6,1029.8 231.2,1035.7 232.8,1030.8 234.4,1037.2 235.8,1033.0 237.2,1037.9 238.7,1033.8 240.1,1040.6 241.5,1036.9 242.9,1041.9 244.7,1037.5 246.5,1042.6 248.3,1039.6 250.1,1043.4 251.8,1039.5 253.6,1044.4 255.4,1038.4 257.2,1044.4 258.8,1039.2 260.5,1042.4 262.1,1041.2 263.8,1045.1 265.4,1040.4 267.1,1044.7 268.7,1039.5 270.1,1044.1 271.5,1036.2 272.9,1040.0 274.4,1034.2 275.8,1039.1 277.2,1031.8 279.0,1037.7 280.8,1033.3 282.6,1037.7 284.4,1032.8 286.1,1039.2 287.9,1034.8 289.7,1039.8 291.5,1035.0 292.9,1040.0 294.4,1031.6 295.8,1035.6 297.2,1030.1 298.6,1034.0 300.1,1026.8 301.5,1030.2 302.9,1023.8 304.4,1028.7 305.8,1024.9 307.2,1027.9 308.7,1023.0 310.1,1026.1 311.5,1018.8 312.9,1023.5 314.4,1018.0 315.8,1022.1 317.2,1018.2 318.7,1020.8 320.1,1016.3 321.5,1019.7 322.9,1016.1 324.4,1021.1 325.8,1014.9 327.2,1019.3 328.7,1012.9 330.1,1015.5 331.6,1010.2 333.0,1015.2 334.4,1007.0 335.9,1011.4 337.3,1005.0 338.9,1010.4 340.6,1006.8 342.2,1012.6 343.8,1009.2 345.4,1013.3 347.1,1009.0 348.7,1014.5 350.1,1008.8 351.6,1012.1 353.0,1006.5 354.4,1011.4 355.8,1004.6 357.2,1008.3 358.7,1004.6 360.1,1009.7 361.7,1005.0 363.2,1009.3 364.8,1004.3 366.4,1007.8 367.9,1003.8 369.5,1007.8 371.0,1002.2 372.6,1007.8 374.2,1002.2 375.7,1005.9 377.3,1000.1 379.0,1005.5 380.6,1000.9 382.3,1006.3 384.0,999.3 385.6,1003.7 387.3,999.9 388.5,1003.5 389.7,999.5 390.9,1002.9 392.0,997.4 393.2,1000.1 394.4,996.7 396.0,1002.0 397.7,996.4 399.3,1000.1 401.0,993.8 402.6,997.0 404.3,992.9 405.9,995.9 407.7,992.4 409.5,997.0 411.3,991.4 413.0,996.1 414.8,990.1 416.6,995.2 418.4,989.6 420.2,994.2 421.4,989.6 422.6,993.2 423.8,986.2 424.9,990.9 426.1,981.9 427.3,984.5 428.1,979.9 428.9,982.3 429.7,977.2 430.5,978.0 430.7,976.4 431.0,974.7 431.2,973.1 431.4,971.5 431.7,969.8 431.9,968.2 432.2,966.6 432.4,964.9 432.6,963.3 432.9,961.7 433.1,960.1 433.3,958.4 433.6,956.8 433.8,955.2 434.1,953.5 434.3,951.9 434.5,950.3 434.8,948.6 435.0,947.0 435.1,945.4 435.2,943.8 435.2,942.2 435.3,940.6 435.4,939.0 435.5,937.4 435.6,935.8 435.6,934.1 435.7,932.5 435.8,930.9 435.9,929.3 435.9,927.7 436.0,926.1 436.1,924.5 436.2,922.9 436.3,921.3 436.3,919.7 436.4,918.1 436.5,916.5 436.6,914.9 436.6,913.2 436.7,911.6 436.8,910.0 436.9,908.4 437.0,906.8 437.0,905.2 437.1,903.6 437.2,902.0 437.2,900.4 437.3,898.8 437.3,897.2 437.3,895.6 437.3,894.0 437.4,892.4 437.4,890.8 437.4,889.1 437.5,887.5 437.5,885.9 437.5,884.3 437.5,882.7 437.6,881.1 437.6,879.5 437.6,877.9 437.7,876.3 437.7,874.7 437.7,873.1 437.7,871.5 437.8,869.9 437.8,868.2 437.8,866.6 437.9,865.0 437.9,863.4 437.9,861.8 437.9,860.2 438.0,858.6 438.0,857.0 438.0,855.4 438.0,853.7 438.0,852.1 438.0,850.5 438.1,848.9 438.1,847.2 438.1,845.6 438.1,844.0 438.1,842.3 438.1,840.7 438.1,839.1 438.1,837.4 438.1,835.8 438.2,834.2 438.2,832.6 438.2,830.9 438.2,829.3 438.2,827.7 438.2,826.0 438.2,824.4 438.2,822.8 438.2,821.1 438.3,819.5 438.3,817.9 438.3,816.3 438.3,814.6 438.3,813.0 438.3,811.4 438.3,809.8 438.3,808.2 438.3,806.6 438.3,805.0 438.3,803.4 438.4,801.8 438.4,800.1 438.4,798.5 438.4,796.9 438.4,795.3 438.4,793.7 438.4,792.1 438.4,790.5 438.4,788.9 438.4,787.3 438.4,785.7 438.4,784.1 438.4,782.5 438.4,780.9 438.4,779.2 438.5,777.6 438.5,776.0 438.5,774.4 438.5,772.8 438.5,771.2 438.5,769.6 438.5,768.0 438.5,766.4 438.5,764.7 438.5,763.1 438.5,761.5 438.6,759.9 438.6,758.2 438.6,756.6 438.6,755.0 438.6,753.3 438.6,751.7 438.6,750.1 438.6,748.4 438.6,746.8 438.7,745.2 438.7,743.6 438.7,741.9 438.7,740.3 438.7,738.7 438.7,737.0 438.7,735.4 438.7,733.8 438.7,732.1 438.8,730.5 438.8,728.9 438.8,727.3 438.8,725.6 438.8,724.0 438.8,722.4 438.8,720.8 438.9,719.1 438.9,717.5 438.9,715.9 438.9,714.3 439.0,712.7 439.0,711.0 439.0,709.4 439.0,707.8 439.1,706.2 439.1,704.6 439.1,703.0 439.1,701.3 439.2,699.7 439.2,698.1 439.2,696.5 439.2,694.9 439.3,693.2 439.3,691.6 439.3,690.0 439.4,688.4 439.4,686.8 439.5,685.2 439.5,683.5 439.6,681.9 439.6,680.3 439.7,678.7 439.8,677.1 439.8,675.5 439.9,673.9 439.9,672.2 440.0,670.6 440.0,669.0 440.1,667.4 440.1,669.0 440.2,670.6 440.2,672.2 440.2,673.9 440.3,675.5 440.3,677.1 440.4,678.7 440.4,680.3 440.4,681.9 440.5,683.5 440.5,685.2 440.5,686.8 440.6,688.4 440.6,690.0 440.6,691.6 440.7,693.2 440.7,694.8 440.7,696.4 440.7,698.0 440.8,699.7 440.8,701.3 440.8,702.9 440.9,704.5 440.9,706.1 440.9,707.7 440.9,709.3 441.0,710.9 441.0,712.5 441.0,714.1 441.1,715.8 441.1,717.4 441.1,719.0 441.1,720.6 441.2,722.2 441.2,723.8 441.3,725.5 441.3,727.1 441.4,728.8 441.4,730.4 441.5,732.1 441.5,733.7 441.6,735.4 441.6,737.0 441.7,738.7 441.7,740.4 441.8,742.0 441.8,743.7 441.9,745.3 441.9,747.0 442.0,748.6 442.0,750.3 442.1,751.9 442.1,753.6 442.2,755.3 442.2,756.9 442.3,758.6 442.3,760.2 442.4,761.9 442.4,763.5 442.5,765.2 442.5,766.8 442.6,768.5 442.7,770.1 442.8,771.8 442.8,773.4 442.9,775.1 443.0,776.7 443.1,778.4 443.2,780.0 443.3,781.7 443.3,783.3 443.4,785.0 443.5,786.6 443.6,788.3 443.7,789.9 443.7,791.6 443.8,793.2 443.9,794.9 444.0,796.5 444.1,798.2 444.1,799.8 444.2,801.5 444.3,803.1 444.4,804.8 444.5,806.4 444.6,808.1 444.6,809.7 444.7,811.4 444.8,813.0 444.9,814.6 445.0,816.2 445.1,817.8 445.3,819.4 445.4,821.0 445.5,822.6 445.6,824.2 445.7,825.8 445.8,827.4 445.9,829.0 446.1,830.6 446.2,832.2 446.3,833.8 446.4,835.4 446.5,837.1 446.6,838.8 446.7,840.5 446.7,842.3 446.8,844.0 446.9,845.7 447.0,847.4 447.1,849.1 447.2,850.8 447.2,852.6 447.3,854.3 447.4,856.0 447.5,857.7 447.8,859.4 448.2,861.1 448.5,862.9 448.8,864.6 449.2,866.3 449.5,870.4 450.9,864.8 452.4,871.4 454.2,865.7 456.0,869.0 456.7,864.4 457.4,866.5 458.1,861.4 458.8,863.3 459.5,861.0 460.1,861.4 460.7,857.1 461.3,857.7 461.9,854.4 462.5,853.0 463.2,850.1 464.0,851.6 464.8,845.6 465.5,846.0 466.0,842.2 466.5,843.1 466.9,839.4 467.4,839.6 467.9,835.6 468.4,835.4 468.6,833.8 468.9,832.2 469.1,830.6 469.4,829.0 469.6,827.4 469.9,825.8 470.1,824.2 470.3,822.6 470.6,821.0 470.8,819.4 471.1,817.8 471.3,816.2 471.6,814.6 471.8,813.0 472.0,811.3 472.2,809.6 472.5,807.9 472.7,806.2 472.9,804.5 473.1,802.8 473.4,801.0 473.6,799.3 473.8,797.6 474.0,795.9 474.3,794.2 474.5,792.5 474.7,790.8 474.8,789.1 474.9,787.4 475.1,785.7 475.2,783.9 475.3,782.2 475.4,780.5 475.6,778.8 475.7,777.1 475.8,775.4 475.9,773.6 476.1,771.9 476.2,770.2 476.3,768.5 476.4,766.9 476.5,765.3 476.5,763.7 476.6,762.1 476.7,760.5 476.8,758.9 476.9,757.3 476.9,755.7 477.0,754.1 477.1,752.5 477.2,750.9 477.2,749.3 477.3,747.7 477.4,746.1 477.5,744.4 477.6,742.7 477.7,741.0 477.7,739.2 477.8,737.5 477.9,735.8 478.0,734.1 478.1,732.4 478.2,730.7 478.2,728.9 478.3,727.2 478.4,725.5 478.5,723.8 478.6,722.1 478.7,720.4 478.8,718.7 479.0,716.9 479.1,715.2 479.2,713.5 479.3,711.8 479.4,710.1 479.5,708.4 479.7,706.6 479.8,704.9 479.9,703.2 480.0,701.5 480.1,699.8 480.2,698.1 480.3,696.4 480.4,694.6 480.5,692.9 480.6,691.2 480.6,689.5 480.7,687.8 480.8,686.1 480.9,684.3 481.0,682.6 481.1,680.9 481.2,679.2 481.2,677.5 481.3,675.8 481.3,674.1 481.4,672.3 481.4,670.6 481.5,668.9 481.5,667.2 481.6,665.5 481.6,663.8 481.7,662.0 481.7,660.3 481.8,658.6 481.8,656.9 481.8,655.2 481.8,653.5 481.8,651.8 481.8,650.0 481.8,648.3 481.8,646.6 481.8,644.9 481.8,643.2 481.8,641.5 481.8,639.7 481.8,638.0 481.8,636.3 481.8,634.6 481.8,632.9 481.9,631.2 481.9,629.5 482.0,627.7 482.0,626.0 482.0,624.3 482.1,622.6 482.1,620.9 482.1,619.2 482.2,617.4 482.2,615.7 482.3,614.0 482.3,612.3 482.5,610.6 482.7,608.9 482.8,607.2 483.0,605.5 483.2,603.8 483.3,605.5 483.4,607.2 483.4,608.9 483.5,610.6 483.6,612.3 483.6,614.0 483.7,615.6 483.7,617.3 483.7,618.9 483.7,620.6 483.8,622.2 483.8,623.9 483.8,625.5 483.8,627.2 483.9,628.8 483.9,630.5 483.9,632.1 483.9,633.8 484.0,635.4 484.0,637.1 484.0,638.7 484.0,640.4 484.1,642.0 484.1,643.7 484.1,645.3 484.1,647.0 484.2,648.6 484.2,650.3 484.2,651.9 484.2,653.6 484.3,655.2 484.3,656.9 484.3,658.6 484.4,660.2 484.4,661.9 484.5,663.5 484.5,665.2 484.5,666.8 484.6,668.5 484.6,670.1 484.7,671.8 484.7,673.4 484.7,675.1 484.8,676.7 484.8,678.4 484.9,680.0 484.9,681.7 485.0,683.3 485.0,685.0 485.0,686.6 485.1,688.3 485.1,689.9 485.2,691.6 485.2,693.2 485.2,694.9 485.3,696.5 485.3,698.2 485.4,699.8 485.4,701.5 485.4,703.2 485.5,704.8 485.5,706.5 485.6,708.1 485.6,709.8 485.6,711.4 485.7,713.1 485.7,714.7 485.8,716.4 485.8,718.0 485.8,719.7 485.9,721.3 485.9,723.0 486.0,724.6 486.0,726.3 486.1,727.9 486.1,729.6 486.1,731.2 486.2,732.9 486.2,734.5 486.3,736.2 486.3,737.8 486.3,739.5 486.4,741.1 486.4,742.8 486.5,744.4 486.5,746.1 486.6,747.8 486.7,749.4 486.7,751.1 486.8,752.7 486.9,754.4 487.0,756.0 487.1,757.7 487.2,759.3 487.2,761.0 487.3,762.7 487.4,764.3 487.5,766.0 487.6,767.6 487.6,769.3 487.7,770.9 487.8,772.6 487.9,774.2 488.0,775.9 488.0,777.6 488.1,779.2 488.2,780.9 488.3,782.5 488.4,784.2 488.5,785.8 488.5,787.5 488.6,789.1 488.7,790.8 488.7,792.5 488.8,794.1 488.8,795.8 488.9,797.4 488.9,799.1 489.0,800.7 489.0,802.4 489.1,804.0 489.1,805.7 489.1,807.3 489.2,809.0 489.2,810.6 489.3,812.3 489.3,813.9 489.4,815.6 489.4,817.2 489.5,818.9 489.5,820.5 489.5,822.2 489.6,823.8 489.6,825.5 489.7,827.1 489.7,828.8 489.8,830.4 489.8,832.1 489.9,833.7 489.9,835.4 490.0,837.1 490.1,838.8 490.2,840.5 490.2,842.3 490.3,844.0 490.4,845.7 490.5,847.4 490.6,849.1 490.7,850.8 490.7,852.6 490.8,854.3 490.9,856.0 491.0,857.7 491.2,859.3 491.3,860.9 491.5,862.5 491.6,864.1 491.8,865.7 491.9,867.3 492.1,868.9 492.3,870.4 492.4,872.0 492.6,873.6 492.7,875.2 492.9,876.8 493.0,878.4 493.2,880.0 493.4,881.6 493.6,883.2 493.8,884.8 494.0,886.4 494.2,888.0 494.4,889.6 494.6,891.1 494.9,892.7 495.1,894.3 495.3,895.9 495.5,897.5 495.7,899.1 495.9,900.7 496.1,902.3 496.7,903.5 497.3,908.1 497.9,905.4 498.5,909.0 499.1,908.2 499.7,912.9 500.3,913.4 501.2,917.5 502.2,914.5 503.1,920.0 504.0,916.4 505.0,923.0 505.9,922.4 506.6,925.2 507.3,924.7 507.9,929.5 508.6,928.1 509.3,931.3 510.2,931.9 511.1,937.1 512.0,934.1 513.0,940.0 513.9,934.9 514.8,941.3 516.1,937.7 517.5,944.3 518.8,944.2 520.2,949.5 521.5,947.0 522.9,951.9 524.3,945.7 525.8,952.5 527.2,948.0 528.6,953.8 530.0,950.8 531.2,957.0 532.5,951.9 533.7,959.1 534.9,952.4 536.2,959.1 537.4,954.8 539.2,960.4 541.0,957.5 542.7,963.5 544.5,957.6 546.3,963.5 548.0,954.0 549.8,959.7 551.6,954.1 553.3,958.5 554.9,953.2 556.6,958.6 558.2,953.2 559.9,956.8 561.5,953.5 563.2,957.7 564.9,951.0 566.5,956.9 568.2,951.2 569.9,955.1 571.6,949.9 573.2,954.6 574.9,952.6 575.3,951.1 575.7,947.9 576.0,947.5 576.4,944.4 576.8,944.4 577.2,940.8 577.5,940.7 577.9,939.1 578.3,940.9 580.7,935.4 581.1,938.7 581.6,937.7 582.0,941.3 582.4,941.2 582.8,944.9 583.2,944.0 583.7,948.1 584.1,949.1 585.0,951.7 585.9,949.0 586.7,954.0 587.6,951.7 588.6,955.0 589.6,949.0 590.6,953.0 591.6,946.4 592.6,949.8 593.6,945.7 594.6,946.8 595.6,943.7 596.5,946.4 597.5,941.4 598.5,945.3 599.4,939.1 600.4,937.5 601.1,936.4 601.9,937.9 602.6,933.4 603.3,934.9 604.0,928.8 604.8,931.1 605.5,926.4 606.2,928.6 607.4,922.0 608.5,924.4 609.7,918.2 610.9,922.2 612.0,916.5 613.2,917.2 614.1,915.9 615.0,921.3 615.8,918.2 616.7,924.2 617.6,920.3 618.5,927.1 619.3,925.7 620.2,928.2 620.7,929.4 621.1,933.6 621.6,931.4 622.0,934.5 622.5,934.1 623.0,938.4 623.4,939.0 623.9,942.4 624.3,942.3 624.8,944.5 625.5,944.5 626.1,949.4 626.8,948.9 627.5,952.6 628.2,950.5 628.8,955.9 629.5,953.1 631.2,958.3 632.9,958.4 633.0,956.8 633.1,955.1 633.2,953.5 633.3,951.9 633.4,950.3 633.5,948.6 633.6,947.0 633.7,945.4 633.8,943.8 633.8,942.1 633.9,940.5 634.0,938.9 634.1,937.3 634.2,935.6 634.3,934.0 634.4,932.4 634.5,930.8 634.6,929.1 634.7,927.5 634.8,925.9 634.9,924.3 634.9,922.7 635.0,921.1 635.0,919.5 635.1,917.9 635.1,916.3 635.2,914.7 635.2,913.1 635.3,911.5 635.4,909.9 635.4,908.3 635.5,906.7 635.5,905.1 635.6,903.5 635.6,901.8 635.7,900.2 635.7,898.6 635.8,897.0 635.8,895.4 635.9,893.8 636.0,892.2 636.0,890.6 636.1,889.0 636.1,887.4 636.2,885.8 636.2,884.2 636.3,882.6 636.3,881.0 636.4,879.4 636.6,877.5 636.9,875.7 637.1,873.8 637.4,872.0 637.6,870.1 637.8,871.7 638.0,873.3 638.1,874.9 638.3,876.5 638.5,878.1 638.7,879.7 638.8,881.4 639.0,883.0 639.2,884.6 639.4,886.2 639.5,887.8 639.7,889.4 639.9,891.0 639.9,892.6 640.0,894.2 640.0,895.8 640.1,897.4 640.1,899.0 640.1,900.6 640.2,902.2 640.2,903.8 640.3,905.4 640.3,907.0 640.4,908.6 640.4,910.2 640.4,911.8 640.5,913.4 640.5,915.1 640.6,916.7 640.6,918.3 640.6,919.9 640.7,921.5 640.7,923.1 640.8,924.7 640.8,926.3 640.9,927.9 640.9,929.5 640.9,931.1 641.0,932.7 641.0,934.3 641.1,935.9 641.1,937.5 641.1,939.1 641.2,940.7 641.2,942.4 641.3,944.0 641.3,945.6 641.4,947.2 641.4,948.8 641.5,950.4 641.5,952.1 641.6,953.7 641.6,955.3 641.7,956.9 641.7,958.5 641.8,960.1 641.8,961.8 641.9,963.4 641.9,965.0 642.0,966.6 642.0,968.2 642.1,969.8 642.1,971.5 642.2,973.1 642.2,976.8 643.4,975.0 644.5,980.6 645.7,978.6 646.9,983.1 648.0,978.7 649.2,984.9 650.6,981.0 652.0,986.6 653.4,982.2 654.8,989.1 656.2,983.9 657.7,991.0 659.3,987.4 660.8,994.5 662.0,988.7 663.1,991.6 664.3,984.8 665.4,988.9 666.6,982.5 668.0,988.5 669.5,981.5 671.0,987.1 672.4,984.0 673.5,986.8 674.5,981.2 675.5,983.8 676.6,976.8 677.7,981.5 678.7,977.2 679.8,984.5 680.9,979.4 682.0,987.1 683.0,980.6 684.1,986.2 685.2,986.3 686.1,988.4 687.0,986.7 687.8,993.0 688.7,990.0 690.2,995.6 691.8,992.5 693.4,999.2 694.9,994.3 696.5,999.0 698.0,996.0 699.9,1001.1 701.7,996.4 703.6,1001.4 705.4,997.9 707.3,1002.5 709.2,997.5 711.0,1003.0 712.9,998.3 714.7,1004.0 716.6,998.2 717.8,1003.0 718.9,992.7 720.0,995.2 721.2,988.6 722.4,992.0 723.5,987.0 725.1,993.5 726.8,988.5 728.4,992.9 730.1,989.9 731.7,992.1 732.7,988.8 733.6,992.9 734.6,985.2 735.6,987.1 736.5,981.7 737.5,984.0 737.9,982.4 738.2,980.7 738.5,979.1 738.9,977.5 739.2,975.9 739.6,974.2 740.0,972.6 740.3,971.0 740.6,969.3 741.0,967.7 741.1,966.1 741.3,964.5 741.4,962.9 741.6,961.3 741.7,959.7 741.9,958.1 742.0,956.5 742.1,954.9 742.3,953.3 742.4,951.7 742.6,950.1 742.7,948.5 742.9,946.9 743.0,945.3 743.2,943.7 743.3,942.1 743.5,940.5 743.7,938.9 744.0,937.3 744.2,935.7 744.4,934.1 744.6,932.5 744.8,930.9 745.0,929.4 745.3,927.8 745.5,926.2 745.7,924.6 745.9,923.0 746.1,921.4 746.4,919.8 746.6,918.2 746.8,916.6 747.1,914.9 747.4,913.2 747.8,911.5 748.1,909.8 748.4,908.1 748.7,906.5 749.0,904.8 749.3,903.1 749.7,901.4 750.0,899.7 750.3,898.0 751.1,897.2 751.8,892.3 752.6,893.9 753.8,890.6 754.9,897.0 756.1,894.2 757.2,900.7 758.4,897.2 759.9,901.8 761.5,898.4 763.0,903.6 764.2,899.4 765.4,903.6 766.5,897.5 767.7,900.5 768.9,895.7 769.1,894.1 769.3,892.5 769.4,890.9 769.6,889.3 769.8,887.7 770.0,886.1 770.1,884.4 770.3,882.8 770.5,881.2 770.7,879.6 770.8,878.0 771.0,876.4 771.2,874.8 771.4,873.0 771.6,871.3 771.7,869.5 771.9,867.8 772.1,866.0 772.3,864.3 772.5,862.5 772.6,860.8 772.8,859.0 773.0,857.3 773.3,858.9 773.7,860.6 774.0,862.2 774.3,863.9 774.7,865.5 775.0,867.2 775.3,868.9 775.7,870.5 776.0,872.1 776.3,873.8 776.7,875.5 777.0,877.1 777.9,874.9 778.8,880.6 779.8,878.6 780.7,884.5 781.6,884.0 782.6,884.0 783.5,879.6 784.5,881.7 785.5,876.6 786.4,878.4 787.4,874.8 787.8,874.3 788.3,870.7 788.7,870.8 789.1,867.1 789.5,867.5 790.0,862.9 790.4,863.6 790.8,859.5 791.2,860.2 791.7,856.4 792.1,856.2 792.3,854.5 792.4,852.9 792.6,851.2 792.8,849.5 792.9,847.9 793.1,846.2 793.2,844.5 793.4,842.9 793.6,841.2 793.7,839.6 793.9,837.9 794.1,836.2 794.2,834.6 794.4,832.9 795.1,831.3 795.8,832.4 796.5,827.7 797.2,829.8 797.9,821.4 799.6,828.0 801.4,826.0 801.5,827.7 801.7,829.4 801.8,831.0 801.9,832.7 802.0,834.4 802.2,836.1 802.3,837.7 802.4,839.4 802.5,841.1 802.7,842.8 802.8,844.5 802.9,846.1 803.1,847.8 803.2,849.5 803.3,851.2 803.4,852.8 803.6,854.5 803.7,856.2 803.9,857.9 804.0,859.5 804.2,861.2 804.4,862.8 804.5,864.5 804.7,866.1 804.9,867.8 805.0,869.5 805.2,871.1 805.4,872.8 805.5,874.4 805.7,876.1 805.9,877.7 806.0,879.4 806.2,881.1 806.4,882.7 806.5,884.4 806.7,886.0 806.9,887.7 807.0,889.3 807.2,891.0 807.4,892.6 807.6,894.2 807.8,895.8 808.0,897.3 808.2,898.9 808.5,900.5 808.7,902.1 808.9,903.7 809.1,905.3 809.3,906.9 809.5,908.5 809.7,910.0 809.9,911.6 810.1,913.2 810.3,914.8 810.5,916.4 810.8,918.0 811.0,919.6 811.2,921.1 811.4,922.7 811.6,924.3 811.8,925.9 812.2,926.5 812.6,929.9 813.0,929.8 813.5,933.6 813.9,933.1 814.3,937.0 814.7,936.9 815.1,940.0 815.5,940.0 815.9,943.8 816.4,943.7 816.8,947.4 817.2,947.2 817.6,949.1 818.2,950.2 818.8,954.9 819.4,952.0 820.0,956.7 820.5,954.8 821.1,959.2 821.7,959.9 822.3,964.2 822.9,962.7 823.5,965.4 824.4,963.9 825.2,968.5 826.1,966.8 827.0,971.1 827.8,969.5 828.7,974.7 829.5,972.9 830.4,978.0 831.8,977.3 833.2,983.0 834.6,978.9 836.0,985.0 837.4,981.6 838.2,980.8 838.9,976.4 839.7,977.9 840.5,972.8 841.2,975.2 842.0,972.3 843.2,971.7 844.4,968.5 844.8,971.9 845.3,971.3 845.7,975.2 846.1,975.1 846.6,978.8 847.0,978.3 847.5,981.6 847.9,981.6 848.8,986.3 849.6,983.1 850.4,989.7 851.3,985.9 852.6,988.2 854.0,983.0 855.3,987.2 856.6,980.1 857.9,982.1 859.3,977.6 860.6,981.1 862.4,975.5 864.1,979.7 865.9,975.2 867.6,981.7 869.0,977.8 870.3,984.0 871.7,978.5 873.0,984.8 874.4,983.0 875.7,987.4 876.1,984.6 876.5,984.5 876.9,981.5 877.3,981.0 877.7,978.1 878.1,978.7 879.7,973.0 881.3,978.9 883.0,974.6 884.6,980.0 886.2,979.3 887.2,980.6 888.2,975.1 889.2,977.4 890.2,972.8 891.2,975.0 892.2,970.5 893.2,968.9 893.9,966.5 894.6,968.3 895.3,963.6 896.0,965.4 896.7,961.1 897.3,962.5 898.0,958.0 898.7,959.6 899.4,954.2 900.1,953.8 900.5,952.0 900.9,951.9 901.3,948.4 901.6,948.5 902.0,945.6 902.4,945.8 902.8,941.2 903.2,941.5 903.6,938.4 904.0,938.5 904.4,935.7 904.7,935.8 905.1,932.6 905.5,932.9 905.9,930.5 906.1,928.9 906.4,927.2 906.6,925.6 906.8,924.0 907.1,922.4 907.3,920.8 907.5,919.1 907.8,917.5 908.0,915.9 908.2,914.2 908.5,912.6 908.7,911.0 909.0,909.4 909.2,907.8 909.4,906.1 909.7,904.5 909.9,902.9 910.1,901.2 910.4,899.6 910.6,898.0 910.7,896.4 910.9,894.8 911.0,893.2 911.1,891.6 911.3,890.0 911.4,888.4 911.5,886.7 911.7,885.1 911.8,883.5 911.9,881.9 912.1,880.3 912.2,878.7 912.4,877.1 912.5,875.5 912.6,873.9 912.8,872.3 912.9,870.7 913.0,869.1 913.2,867.5 913.3,865.8 913.4,864.2 913.6,862.6 913.7,861.0 913.8,859.4 914.0,857.8 914.1,856.2 914.2,854.6 914.3,853.0 914.5,851.4 914.6,849.8 914.7,848.2 914.8,846.6 914.9,845.0 915.1,843.4 915.2,841.8 915.3,840.2 915.4,838.6 915.5,837.0 915.7,835.4 915.8,833.8 915.9,832.1 916.0,830.5 916.2,828.9 916.3,827.3 916.4,825.7 916.5,824.1 916.6,822.5 916.8,820.9 916.9,819.3 917.0,817.7 917.1,816.1 917.2,814.5 917.4,812.9 917.5,811.3 917.6,809.7 917.7,808.1 917.9,806.4 918.0,804.8 918.2,803.1 918.3,801.5 918.5,799.8 918.6,798.2 918.7,796.5 918.9,794.9 919.0,793.2 919.2,791.6 919.3,790.0 919.4,788.3 919.6,786.7 919.7,785.0 919.9,783.4 920.0,781.7 920.1,780.1 920.3,778.4 920.4,776.8 920.6,775.1 920.7,773.5 920.9,771.8 921.0,770.2 921.4,768.3 921.8,766.5 922.1,764.6 922.5,762.8 922.9,760.9 923.1,762.5 923.2,764.1 923.4,765.7 923.6,767.3 923.8,768.9 924.0,770.5 924.1,772.1 924.3,773.7 924.5,775.3 924.6,776.9 924.8,778.5 925.0,780.1 925.2,781.7 925.4,783.3 925.5,784.9 925.7,786.5 925.8,788.1 925.9,789.7 926.1,791.3 926.2,792.9 926.3,794.5 926.4,796.1 926.5,797.7 926.7,799.3 926.8,800.9 926.9,802.5 927.0,804.1 927.1,805.7 927.3,807.3 927.4,808.9 927.5,810.5 927.6,812.1 927.8,813.7 927.9,815.3 928.0,816.9 928.1,818.5 928.2,820.1 928.4,821.7 928.5,823.3 928.6,824.9 928.7,826.5 928.8,828.1 929.0,829.7 929.1,831.3 929.2,832.9 929.3,834.5 929.4,836.1 929.6,837.7 929.7,839.3 929.8,840.9 929.9,842.5 930.0,844.1 930.2,845.7 930.3,847.3 930.4,848.9 930.5,850.5 930.6,852.1 930.8,853.7 930.9,855.3 931.0,857.0 931.1,858.6 931.3,860.2 931.4,861.8 931.5,863.4 931.6,865.0 931.7,866.6 931.9,868.2 932.0,869.8 932.1,871.4 932.2,873.0 932.3,874.6 932.5,876.2 932.6,877.8 932.7,879.4 932.9,881.0 933.1,882.6 933.2,884.2 933.4,885.8 933.6,887.4 933.8,889.0 933.9,890.7 934.1,892.3 934.3,893.9 934.5,895.5 934.6,897.1 934.8,898.7 935.0,900.3 935.2,901.9 935.4,903.5 935.5,905.1 935.7,906.7 935.9,908.3 936.1,909.9 936.2,911.6 936.4,913.2 936.6,914.8 936.8,916.4 936.9,918.0 937.1,919.6 937.3,921.2 937.6,922.8 938.0,924.5 938.3,926.1 938.7,927.8 939.0,929.4 939.3,931.0 939.7,932.7 940.0,934.3 940.4,936.0 940.7,937.6 941.1,939.3 941.4,940.9 941.7,942.5 942.1,944.2 942.4,945.8 942.8,947.5 943.1,949.1 943.6,949.5 944.1,953.0 944.5,952.4 945.0,956.3 945.5,955.9 946.0,959.0 946.5,958.3 947.0,962.6 947.5,961.8 947.9,965.2 948.4,965.3 948.9,967.7 949.5,967.6 950.2,972.7 950.8,969.7 951.4,974.6 952.1,972.4 952.7,977.6 953.4,977.4 954.0,982.1 954.6,979.6 955.3,984.1 955.9,984.0 956.8,989.0 957.6,987.1 958.5,991.3 959.4,988.6 960.3,993.8 961.1,991.8 962.0,997.5 962.9,995.7 964.3,1002.1 965.6,998.6 967.0,1003.9 968.4,997.0 969.8,1002.9 971.1,999.1 972.5,1003.9 973.9,1001.6 975.3,1006.3 976.7,1003.5 978.1,1009.2 979.5,1005.3 980.9,1011.2 982.6,1004.7 984.4,1009.6 986.1,1007.2 987.9,1010.6 989.8,1006.9 991.8,1012.1 993.7,1006.0 995.3,1010.0 996.9,1003.4 998.6,1008.5 1000.2,1004.3 1001.8,1008.3 1003.2,1002.2 1004.7,1006.1 1006.1,998.6 1007.6,1003.2 1008.8,997.9 1009.9,1001.4 1011.1,998.7 1011.4,1000.3 1011.7,1001.9 1012.1,1003.4 1012.4,1005.0 1012.7,1006.6 1013.0,1008.2 1013.3,1009.8 1013.6,1011.4 1014.0,1012.9 1014.3,1014.5 1014.6,1020.3 1015.8,1013.6 1016.9,1017.8 1018.1,1011.7 1019.2,1016.0 1021.0,1010.0 1022.7,1014.7 1024.5,1011.7 1026.2,1013.8 1026.4,1012.2 1026.7,1010.5 1026.9,1008.9 1027.1,1007.3 1027.3,1005.6 1027.6,1004.0 1027.8,1002.4 1028.0,1000.8 1028.3,999.1 1028.5,997.5 1029.1,995.6 1029.6,996.4 1030.2,991.0 1030.7,992.3 1031.3,989.4 1031.6,991.1 1032.0,992.8 1032.3,994.4 1032.6,996.1 1033.0,997.8 1033.3,999.5 1033.6,1001.1 1034.0,1002.8 1034.3,1004.5 1034.7,1005.8 1035.2,1008.8 1035.6,1008.9 1036.0,1012.5 1036.5,1011.0 1036.9,1014.0 1037.4,1014.1 1037.8,1018.5 1039.4,1015.2 1041.1,1021.9 1042.7,1016.3 1044.4,1022.4 1046.0,1013.3 1047.9,1019.2 1049.7,1015.2 1051.6,1020.2 1053.4,1018.7 1055.3,1022.9 1057.0,1018.2 1058.6,1024.4 1060.3,1017.1 1061.9,1022.2 1063.6,1019.2 1065.2,1022.7 1066.9,1015.8 1068.6,1021.3 1070.2,1016.9 1071.9,1020.4 1073.5,1016.6 1075.2,1022.1 1076.8,1016.0 1078.5,1021.5 1080.4,1020.7 1082.2,1025.5 1084.1,1021.5 1085.9,1025.7 1087.8,1020.6 1089.7,1026.6 1091.5,1021.7 1093.4,1025.1 1095.2,1017.2 1097.1,1022.1 1098.8,1017.7 1100.6,1022.0 1102.3,1020.4 1104.0,1024.4 1105.8,1019.2 1107.5,1025.0 1109.3,1018.4 1111.0,1024.3 1112.7,1019.2 1114.3,1023.3 1116.0,1019.7 1117.6,1025.8 1119.3,1019.6 1120.9,1023.7 1122.6,1015.9 1124.1,1020.4 1125.7,1015.5 1127.2,1019.4 1128.8,1016.0 1130.4,1019.5 1131.9,1016.1 1132.7,1017.6 1133.5,1010.7 1134.2,1013.0 1135.0,1007.5 1135.8,1009.7 1136.6,1006.8 1137.3,1008.3 1137.9,1002.8 1138.6,1004.6 1139.2,998.4 1139.9,999.2 1140.5,994.5 1141.2,997.4 1142.6,991.9 1144.0,996.8 1145.4,989.1 1146.6,995.1 1147.9,992.0 1149.1,997.8 1150.3,994.5 1151.6,1000.6 1152.8,995.4 1154.2,1001.9 1155.6,998.1 1157.0,1004.2 1158.4,1001.5 1159.8,1007.4 1161.3,1002.6 1162.9,1009.2 1164.4,1003.7 1166.0,1010.0 1167.5,1005.8 1169.1,1011.3 1171.0,1004.4 1172.8,1008.3 1174.7,1003.7 1176.5,1009.5 1178.4,1008.1 1180.0,1012.4 1181.5,1006.2 1183.1,1010.0 1184.6,1003.9 1186.2,1008.1 1187.7,1002.8 1189.6,1007.4 1191.4,1001.3 1193.3,1007.7 1195.1,1000.8 1197.0,1006.2 1198.9,1001.8 1200.7,1007.8 1202.6,1002.4 1204.4,1008.0 1206.3,1000.8 1208.2,1006.7 1210.0,1002.8 1211.9,1007.6 1213.7,1001.0 1215.6,1005.6 1216.6,1002.2 1217.6,1009.2 1218.6,1008.9 1219.5,1014.5 1220.5,1011.1 1221.5,1016.5 1222.5,1014.7 1223.9,1019.9 1225.3,1016.9 1226.7,1022.9 1228.1,1019.7 1229.5,1020.7 1230.2,1018.7 1230.8,1019.9 1231.5,1014.6 1232.2,1015.9 1232.9,1011.0 1233.5,1012.4 1234.2,1009.1 1234.8,1011.6 1235.3,1011.0 1235.9,1014.5 1236.5,1015.0 1237.0,1018.7 1237.6,1016.3 1239.1,1020.8 1240.5,1016.5 1242.0,1020.6 1243.5,1014.2 1245.0,1020.6 1246.4,1014.4 1247.8,1021.9 1249.3,1017.4 1250.5,1021.4 1251.6,1016.5 1252.8,1019.3 1253.9,1013.3 1255.0,1018.4 1256.2,1010.5 1257.8,1015.3 1259.5,1011.0 1261.1,1016.5 1262.8,1011.4 1264.4,1012.6 1265.1,1011.2 1265.7,1012.7 1266.4,1006.8 1267.0,1007.9 1267.7,1004.1 1268.3,1005.3 1269.0,1002.1 1269.8,1005.1 1270.7,1003.4 1271.5,1008.6 1272.3,1007.0 1273.1,1011.9 1274.0,1009.5 1274.8,1012.6 1275.8,1007.6 1276.7,1012.5 1277.7,1006.4 1278.7,1009.1 1279.6,1005.7 1280.6,1009.1 1282.2,1003.5 1283.9,1006.2 1285.5,998.6 1287.2,1001.5 1288.8,996.0 1289.8,999.7 1290.8,996.4 1291.8,999.8 1292.7,993.2 1293.7,997.6 1294.7,989.0 1295.7,990.5 1296.0,988.9 1296.4,987.3 1296.8,985.6 1297.1,984.0 1297.5,982.4 1297.8,980.8 1298.2,979.2 1298.5,977.5 1298.9,975.9 1299.2,974.3 1299.4,972.6 1299.5,971.0 1299.7,969.3 1299.9,967.6 1300.0,966.0 1300.2,964.3 1300.3,962.6 1300.5,961.0 1300.7,959.3 1300.8,957.7 1301.0,956.0 1301.2,954.3 1301.3,952.7 1301.5,951.0 1301.7,949.4 1301.9,947.8 1302.1,946.2 1302.2,944.6 1302.4,943.0 1302.6,941.4 1302.8,939.7 1303.0,938.1 1303.2,936.5 1303.3,934.9 1303.5,933.3 1303.7,931.7 1303.9,930.1 1304.2,928.4 1304.5,926.7 1304.8,925.0 1305.1,923.3 1305.4,921.5 1305.7,919.8 1306.0,918.1 1306.3,916.4 1306.6,914.7 1306.9,913.0 1307.6,917.9 1308.2,916.1 1308.8,920.9 1309.5,917.2 1310.2,922.0 1310.8,919.4 1312.7,925.2 1314.7,921.1 1316.6,924.3 1317.5,920.4 1318.5,921.8 1319.4,917.4 1320.4,919.9 1321.3,914.8 1322.3,917.4 1323.2,913.4 1324.1,917.0 1325.0,914.2 1325.9,919.1 1326.7,915.3 1327.6,920.3 1328.5,917.5 1329.4,923.1 1329.8,924.7 1330.1,926.4 1330.5,928.0 1330.8,929.6 1331.2,931.2 1331.5,932.9 1331.9,934.5 1332.2,936.1 1332.6,937.8 1332.9,939.4 1333.2,941.1 1333.5,942.8 1333.9,944.5 1334.2,946.2 1334.5,947.9 1334.8,949.5 1335.1,951.2 1335.4,952.9 1335.8,954.6 1336.1,956.3 1336.4,958.0 1336.8,961.2 1337.2,961.4 1337.7,964.6 1338.1,963.2 1338.5,967.2 1338.9,967.0 1339.3,970.2 1339.7,970.1 1340.2,973.6 1340.6,973.1 1341.0,976.6 1341.6,975.9 1342.2,979.9 1342.8,979.3 1343.4,983.5 1344.0,982.2 1344.5,987.0 1345.1,985.7 1345.7,989.7 1346.3,990.4 1346.9,992.9 1347.9,992.5 1348.9,998.0 1349.9,997.5 1351.0,1002.1 1352.0,999.7 1353.0,1004.9 1354.0,998.8 1355.0,1006.1 1356.6,1000.3 1358.2,1004.2 1359.9,1002.6 1361.5,1006.6 1363.1,1001.2 1364.4,1007.5 1365.8,1002.5 1367.2,1007.8 1368.5,1003.1 1369.8,1010.9 1371.2,1006.1 1373.1,1011.3 1374.9,1007.4 1376.8,1012.3 1378.6,1008.6 1380.5,1014.0 1381.9,1009.7 1383.3,1017.1 1384.7,1013.2 1386.1,1018.5 1387.5,1015.3 1389.0,1020.5 1390.6,1016.6 1392.2,1023.2 1393.7,1018.8 1395.2,1023.8 1396.8,1020.3 1398.5,1024.4 1400.2,1020.9 1401.9,1025.3 1403.7,1020.4 1405.4,1025.6 1407.1,1020.8 1408.8,1026.0 1410.4,1017.7 1412.1,1023.1 1413.7,1019.1 1415.4,1022.1 1417.0,1019.0 1418.7,1024.7 1420.3,1019.9 1421.9,1024.7 1423.6,1019.6 1425.2,1023.3 1426.9,1018.1 1428.5,1022.2 1430.2,1015.3 1431.8,1020.4 1433.5,1014.0 1435.2,1019.6 1436.8,1018.5 1438.5,1024.7 1440.2,1019.1 1441.8,1025.2 1443.5,1017.5 1445.2,1023.5 1446.9,1019.2 1448.6,1023.7 1450.2,1018.5 1451.9,1022.9 1453.6,1018.0 1455.3,1022.8 1457.0,1016.8 1458.7,1021.0 1460.4,1015.8 1462.1,1020.3 1463.8,1017.8 1465.5,1021.9 1467.2,1017.1 1468.9,1021.8 1470.6,1015.8 1472.0,1022.2 1473.5,1018.7 1474.9,1024.9 1476.3,1019.6 1477.8,1024.8 1479.2,1021.4 1480.6,1027.5 1482.1,1024.5 1483.5,1030.8 1485.1,1025.8 1486.7,1029.9 1488.3,1023.3 1489.9,1027.4 1491.5,1022.2 1493.1,1027.8 1494.7,1022.2 1496.3,1027.0 1497.9,1021.1 1499.5,1026.3 1501.1,1022.2 1502.7,1026.7 1504.3,1022.8 1505.9,1026.3 1507.5,1017.8 1509.1,1023.3 1510.7,1017.7 1512.3,1023.5 1513.7,1020.9 1515.2,1024.2 1516.6,1019.7 1518.1,1023.7 1519.5,1017.2 1520.9,1021.1 1522.4,1016.2 1523.8,1019.9 1525.3,1013.5 1526.7,1015.0 1527.5,1011.8 1528.3,1015.4 1529.1,1008.7 1530.0,1010.7 1530.8,1005.0 1531.6,1007.7 1532.4,1001.5 1534.1,1006.3 1535.8,999.4 1537.5,1004.2 1539.1,1001.4 1540.8,1006.4 1542.5,1001.8 1543.7,1007.8 1545.0,1002.3 1546.2,1008.4 1547.4,1004.1 1548.6,1009.9 1549.9,1007.9 1551.1,1012.7 1552.8,1009.0 1554.5,1013.6 1556.2,1006.7 1557.8,1012.0 1559.5,1007.1 1561.2,1012.1 1562.5,1009.2 1563.8,1011.7 1565.1,1006.4 1566.4,1010.9 1567.7,1004.0 1569.0,1008.0 1570.3,1000.7 1571.6,1004.9 1572.7,1000.4 1573.8,1003.8 1575.0,998.8 1576.1,1001.2 1577.2,995.4 1578.8,1000.1 1580.3,995.5 1581.8,998.7 1583.4,992.7 1585.0,996.8 1586.5,991.0 1587.7,997.2 1589.0,997.9 1590.2,1004.3 1591.4,1000.5 1592.7,1006.4 1593.9,1000.9 1595.8,1005.6 1597.6,999.7 1599.5,1004.9 1601.3,1002.4 1603.2,1008.3 1605.0,1003.5 1606.2,1008.4 1607.5,1002.1 1608.7,1008.8 1610.0,1003.7 1611.2,1010.4 1612.5,1006.6 1613.7,1012.3 1615.0,1009.7 1616.2,1015.6 1617.5,1010.8 1618.9,1017.0 1620.2,1014.2 1621.5,1019.6 1622.8,1015.3 1624.2,1019.9 1625.5,1017.2 1627.1,1022.0 1628.7,1020.1 1630.3,1025.2 1631.8,1020.2 1633.4,1026.3 1635.0,1019.2 1636.6,1024.4 1638.2,1019.1 1639.8,1023.8 1641.4,1017.0 1643.0,1021.7 1644.6,1016.7 1646.2,1020.8 1647.8,1017.0 1649.0,1019.7 1650.3,1013.6 1651.5,1018.0 1652.7,1010.0 1654.0,1014.2 1655.2,1008.5 1656.8,1012.3 1658.3,1010.8 1659.8,1014.9 1661.4,1008.8 1663.0,1013.9 1664.5,1007.6 1666.0,1013.0 1667.6,1008.3 1669.2,1014.3 1670.7,1010.9 1672.2,1016.7 1673.8,1012.2 1675.0,1019.1 1676.3,1014.4 1677.5,1020.2 1678.7,1018.1 1680.0,1024.8 1681.2,1021.4 1682.8,1027.3 1684.4,1023.1 1686.0,1028.1 1687.6,1021.9 1689.2,1028.1 1690.8,1024.0 1692.4,1029.4 1694.0,1024.1 1695.6,1028.8 1697.2,1024.8 1698.7,1029.6 1700.3,1027.9 1701.9,1032.3 1703.5,1027.5 1705.1,1032.5 1706.8,1027.5 1708.4,1033.5 1710.0,1028.9 1711.7,1035.2 1713.3,1032.1 1715.0,1037.0 1716.6,1032.2 1718.3,1037.9 1720.0,1034.0 1721.6,1038.6 1723.3,1033.0 1725.0,1039.4 1726.7,1034.2 1728.4,1038.7 1730.1,1034.5 1731.7,1039.4 1733.4,1034.6 1735.1,1039.6 1736.8,1034.6 1738.5,1039.6 1740.2,1034.7 1741.9,1038.8 1743.6,1034.2 1745.2,1039.8 1746.9,1034.7 1748.6,1040.1 1750.3,1034.6 1752.0,1039.7 1753.7,1036.0 1755.4,1040.0 1757.1,1036.5 1758.8,1040.5 1760.5,1032.8 1762.2,1037.5 1763.8,1034.2 1765.5,1038.4 1767.2,1034.2 1768.9,1040.9 1770.6,1034.8 1772.3,1041.6 1774.0,1036.2 1775.6,1041.5 1777.3,1036.5 1779.0,1043.1 1780.7,1039.7 1782.3,1043.6 1784.0,1038.9 1785.7,1045.0 1787.3,1039.1 1789.0,1044.3 1790.7,1039.2 1792.3,1043.9 1794.0,1039.4 1795.6,1043.1 1797.3,1037.4 1798.9,1042.2 1800.6,1036.4 1802.2,1041.0 1803.9,1035.7 1805.6,1040.6 1807.3,1034.1 1809.0,1039.2 1810.7,1033.6 1812.4,1038.2 1814.0,1035.3 1815.7,1039.7 1817.4,1033.8 1819.1,1039.8 1820.8,1034.0 1822.5,1037.9 1824.2,1033.1 1825.9,1039.0 1827.6,1034.3 1829.3,1038.8 1831.0,1034.0 1832.6,1039.9 1834.3,1035.2 1836.0,1040.3 1837.7,1035.8 1839.4,1041.1 1841.1,1038.9 1842.8,1042.8 1844.5,1038.2 1846.2,1043.5 1847.9,1036.7 1849.6,1041.4 1851.2,1037.4 1852.9,1041.4 1854.6,1039.9 1856.3,1045.1 1858.0,1039.7 1859.7,1045.1 1861.4,1039.8 1863.0,1044.5 1864.7,1039.3 1866.3,1044.5 1868.0,1039.2 1869.6,1044.9 1871.2,1039.4 1872.9,1044.5 1874.5,1040.5 1876.2,1044.0 1877.8,1039.9 1879.5,1040.1" fill="none" stroke="#000" stroke-width="9.2" transform="translate(0,-0.4)" stroke-linejoin="round" stroke-linecap="round"/>
<rect x="127.9" y="21.0" width="8.4" height="1516.5" fill="#000"/>
<rect x="1878.8" y="20.5" width="8.8" height="1517.0" fill="#000"/>
<rect x="132.0" y="17.0" width="1751.0" height="8.4" fill="#000"/>
<rect x="132.0" y="1531.0" width="1751.2" height="9.5" fill="#000"/>
<rect x="132.0" y="1126.8" width="1751.0" height="6.7" fill="#000"/>
<rect x="132.0" y="1311.6" width="1751.0" height="6.8" fill="#000"/>
<rect x="132.0" y="1498.4" width="1751.0" height="6.5" fill="#000"/>
<rect x="230.2" y="1519.8" width="8.4" height="12.2" fill="#000"/>
<rect x="436.3" y="1519.8" width="8.4" height="12.2" fill="#000"/>
<rect x="642.4" y="1519.8" width="8.4" height="12.2" fill="#000"/>
<rect x="848.5" y="1519.8" width="8.4" height="12.2" fill="#000"/>
<rect x="1054.6" y="1519.8" width="8.4" height="12.2" fill="#000"/>
<rect x="1260.7" y="1519.8" width="8.4" height="12.2" fill="#000"/>
<rect x="1466.8" y="1519.8" width="8.4" height="12.2" fill="#000"/>
<rect x="1672.9" y="1519.8" width="8.4" height="12.2" fill="#000"/>
<rect x="333.1" y="1527.4" width="8.6" height="4.6" fill="#000"/>
<rect x="539.2" y="1527.4" width="8.6" height="4.6" fill="#000"/>
<rect x="745.4" y="1527.4" width="8.6" height="4.6" fill="#000"/>
<rect x="951.5" y="1527.4" width="8.6" height="4.6" fill="#000"/>
<rect x="1157.5" y="1527.4" width="8.6" height="4.6" fill="#000"/>
<rect x="1363.7" y="1527.4" width="8.6" height="4.6" fill="#000"/>
<rect x="1569.8" y="1527.4" width="8.6" height="4.6" fill="#000"/>
<rect x="1775.9" y="1527.4" width="8.6" height="4.6" fill="#000"/>
<circle cx="1467.9" cy="75.9" r="8.1" fill="#000"/>
<polygon points="1475.3,127.8 1486.5,140.9 1475.3,154.0 1464.1,140.9" fill="#000"/>
<path d="M1459.6,190.1 L1485.8,190.1 L1472.4,217.6 Z M1465.2,192.1 L1474.1,211.1 L1483.3,192.1 Z" fill="#000" fill-rule="evenodd"/>
<circle cx="438.9" cy="343.3" r="7.9" fill="#000"/>
<polygon points="476.3,255.4 486.2,267.4 476.3,279.4 466.4,267.4" fill="#000"/>
<polygon points="574.2,559.3 583.9,571.5 574.2,583.7 564.6,571.5" fill="#000"/>
<circle cx="748.0" cy="547.9" r="7.9" fill="#000"/>
<polygon points="766.3,512.6 776.1,524.7 766.3,536.9 756.4,524.7" fill="#000"/>
<circle cx="1144.7" cy="641.7" r="7.9" fill="#000"/>
<circle cx="1302.6" cy="579.8" r="7.9" fill="#000"/>
<path d="M782.3,501.3 L807.4,501.3 L794.6,527.8 Z M787.7,503.2 L796.1,521.5 L805.0,503.2 Z" fill="#000" fill-rule="evenodd"/>
<path d="M908.4,488.0 L933.5,488.0 L920.7,514.9 Z M913.8,489.9 L922.2,508.5 L931.1,489.9 Z" fill="#000" fill-rule="evenodd"/>
<path d="M1309.3,567.1 L1334.5,567.1 L1321.6,593.3 Z M1314.7,569.0 L1323.2,587.1 L1332.1,569.0 Z" fill="#000" fill-rule="evenodd"/>
<path d="M1571.8,637.5 L1596.7,637.5 L1584.0,663.4 Z M1577.1,639.4 L1585.5,657.2 L1594.3,639.4 Z" fill="#000" fill-rule="evenodd"/>
<path d="M1653.2,640.8 L1678.1,640.8 L1665.4,666.9 Z M1658.5,642.7 L1666.9,660.7 L1675.7,642.7 Z" fill="#000" fill-rule="evenodd"/>
<text class="s" font-size="46.26" transform="translate(1491.34,88.5) scale(1.0719,1)">Montmorillonite</text>
<text class="s" font-size="49.96" transform="translate(1492.08,153.2) scale(1.0126,1)">Quartz</text>
<text class="s" font-size="50.38" transform="translate(1498.49,217.6) scale(1.0158,1)">NiO</text>
<text class="s" font-size="41.06" transform="translate(742.93,468) scale(1.0736,1)">(111)</text>
<text class="s" font-size="40.91" transform="translate(871.49,463.2) scale(1.039,1)">(200)</text>
<text class="s" font-size="41.21" transform="translate(1274.29,538) scale(1.0314,1)">(220)</text>
<text class="s" font-size="41.66" transform="translate(1529.36,610.6) scale(1.0377,1)">(311)</text>
<text class="s" font-size="41.36" transform="translate(1644.5,615.3) scale(1.0264,1)">(222)</text>
<text class="s" font-size="50.94" transform="translate(1792.11,680.1) scale(1.1053,1)">(b)</text>
<text class="s" font-size="53.24" transform="translate(1799.57,1007.1) scale(1.0739,1)">(a)</text>
<text class="s" font-size="41.07" transform="translate(1561.06,1115.4) scale(1.0235,1)">JCPDS:47-1049</text>
<text class="s" font-size="40.61" transform="translate(1566.66,1295.4) scale(1.0293,1)">JCPDS:39-1425</text>
<text class="s" font-size="41.07" transform="translate(1564.76,1488.1) scale(1.0197,1)">JCPDS:29-1498</text>
<text class="a" font-size="77" text-anchor="middle" transform="translate(234.4,1612.7) scale(0.977,1)">10</text>
<text class="a" font-size="77" text-anchor="middle" transform="translate(440.5,1612.7) scale(0.977,1)">20</text>
<text class="a" font-size="77" text-anchor="middle" transform="translate(646.6,1612.7) scale(0.977,1)">30</text>
<text class="a" font-size="77" text-anchor="middle" transform="translate(852.7,1612.7) scale(0.977,1)">40</text>
<text class="a" font-size="77" text-anchor="middle" transform="translate(1058.8,1612.7) scale(0.977,1)">50</text>
<text class="a" font-size="77" text-anchor="middle" transform="translate(1264.9,1612.7) scale(0.977,1)">60</text>
<text class="a" font-size="77" text-anchor="middle" transform="translate(1471.0,1612.7) scale(0.977,1)">70</text>
<text class="a" font-size="77" text-anchor="middle" transform="translate(1677.1,1612.7) scale(0.977,1)">80</text>
<text class="a" font-size="77" text-anchor="middle" transform="translate(1883.2,1612.7) scale(0.977,1)">90</text>
<rect x="180.0" y="1570.9" width="1757.0" height="1.1" fill="#fff"/>
<text class="a" font-size="68.95" transform="translate(769.37,1715.9) scale(1.1096,1)">2-Theta(degree)</text>
<text class="a" font-size="80.58" transform="translate(81.2,1048.2) rotate(-90) translate(-6.96,0) scale(0.9339,1)">Intensity(a.u.)</text>
</svg>
</body></html>
